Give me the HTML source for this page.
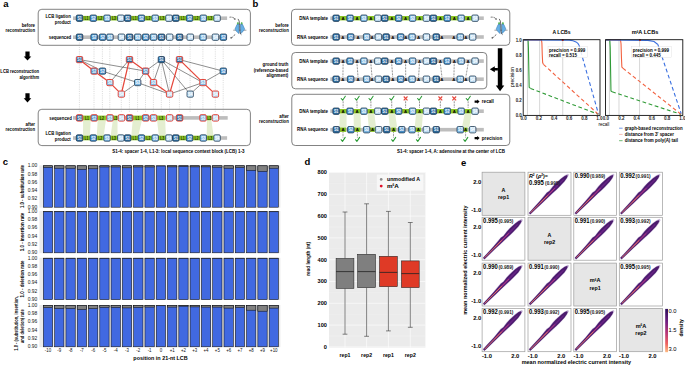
<!DOCTYPE html>
<html><head><meta charset="utf-8"><style>
html,body{margin:0;padding:0;background:#fff;}
svg{display:block;font-family:"Liberation Sans", sans-serif;}
</style></head><body>
<svg width="685" height="365" viewBox="0 0 685 365">
<rect x="0" y="0" width="685" height="365" fill="#ffffff"/>
<text x="3.2" y="7" font-size="9.5" font-weight="bold" text-anchor="start" fill="#000" >a</text>
<text x="252.6" y="6.8" font-size="9.5" font-weight="bold" text-anchor="start" fill="#000" >b</text>
<text x="2.8" y="165.2" font-size="9.5" font-weight="bold" text-anchor="start" fill="#000" >c</text>
<text x="304.4" y="165.2" font-size="9.5" font-weight="bold" text-anchor="start" fill="#000" >d</text>
<text x="461" y="165.6" font-size="9.5" font-weight="bold" text-anchor="start" fill="#000" >e</text>
<rect x="38.2" y="9.3" width="212.2" height="36" fill="none" stroke="#4d4d4d" stroke-width="0.7" rx="3.6" />
<rect x="38.2" y="109.3" width="212.2" height="36.3" fill="none" stroke="#4d4d4d" stroke-width="0.7" rx="3.6" />
<text x="35" y="26.97" font-size="5.22" font-weight="bold" text-anchor="end" fill="#000" textLength="13.29" lengthAdjust="spacingAndGlyphs" >before</text>
<text x="35" y="32.31" font-size="5.04" font-weight="bold" text-anchor="end" fill="#000" textLength="29.4" lengthAdjust="spacingAndGlyphs" >reconstruction</text>
<text x="70.8" y="18.25" font-size="5.16" font-weight="bold" text-anchor="end" fill="#000" textLength="25.32" lengthAdjust="spacingAndGlyphs" >LCB ligation</text>
<text x="70.8" y="23.95" font-size="5.16" font-weight="bold" text-anchor="end" fill="#000" textLength="16" lengthAdjust="spacingAndGlyphs" >product</text>
<text x="71.2" y="39.15" font-size="5.16" font-weight="bold" text-anchor="end" fill="#000" textLength="22.46" lengthAdjust="spacingAndGlyphs" >sequenced</text>
<rect x="73" y="16.4" width="154.1" height="3.6" fill="#bdbdbd" stroke="none" stroke-width="0" rx="0" />
<rect x="82.98" y="15.9" width="6.88" height="4.6" fill="#8ac425" stroke="none" stroke-width="0" rx="0" />
<text x="86.41" y="19.8" font-size="4.6" font-weight="bold" text-anchor="middle" fill="#1a2a00" textLength="3.9" lengthAdjust="spacingAndGlyphs">L1</text>
<rect x="96.73" y="15.9" width="6.88" height="4.6" fill="#8ac425" stroke="none" stroke-width="0" rx="0" />
<text x="100.17" y="19.8" font-size="4.6" font-weight="bold" text-anchor="middle" fill="#1a2a00" textLength="3.9" lengthAdjust="spacingAndGlyphs">L2</text>
<rect x="110.48" y="15.9" width="6.88" height="4.6" fill="#8ac425" stroke="none" stroke-width="0" rx="0" />
<text x="113.92" y="19.8" font-size="4.6" font-weight="bold" text-anchor="middle" fill="#1a2a00" textLength="3.9" lengthAdjust="spacingAndGlyphs">L3</text>
<rect x="131.11" y="15.9" width="6.88" height="4.6" fill="#8ac425" stroke="none" stroke-width="0" rx="0" />
<text x="134.55" y="19.8" font-size="4.6" font-weight="bold" text-anchor="middle" fill="#1a2a00" textLength="3.9" lengthAdjust="spacingAndGlyphs">L1</text>
<rect x="144.86" y="15.9" width="6.88" height="4.6" fill="#8ac425" stroke="none" stroke-width="0" rx="0" />
<text x="148.3" y="19.8" font-size="4.6" font-weight="bold" text-anchor="middle" fill="#1a2a00" textLength="3.9" lengthAdjust="spacingAndGlyphs">L2</text>
<rect x="158.61" y="15.9" width="6.88" height="4.6" fill="#8ac425" stroke="none" stroke-width="0" rx="0" />
<text x="162.05" y="19.8" font-size="4.6" font-weight="bold" text-anchor="middle" fill="#1a2a00" textLength="3.9" lengthAdjust="spacingAndGlyphs">L3</text>
<rect x="179.24" y="15.9" width="6.88" height="4.6" fill="#8ac425" stroke="none" stroke-width="0" rx="0" />
<text x="182.68" y="19.8" font-size="4.6" font-weight="bold" text-anchor="middle" fill="#1a2a00" textLength="3.9" lengthAdjust="spacingAndGlyphs">L1</text>
<rect x="192.99" y="15.9" width="6.88" height="4.6" fill="#8ac425" stroke="none" stroke-width="0" rx="0" />
<text x="196.43" y="19.8" font-size="4.6" font-weight="bold" text-anchor="middle" fill="#1a2a00" textLength="3.9" lengthAdjust="spacingAndGlyphs">L2</text>
<rect x="206.74" y="15.9" width="6.88" height="4.6" fill="#8ac425" stroke="none" stroke-width="0" rx="0" />
<text x="210.18" y="19.8" font-size="4.6" font-weight="bold" text-anchor="middle" fill="#1a2a00" textLength="3.9" lengthAdjust="spacingAndGlyphs">L3</text>
<rect x="76.3" y="15" width="6.5" height="6.4" rx="1.3" fill="#3675aa" stroke="#17314a" stroke-width="0.75"/>
<rect x="76.8" y="18.84" width="5.5" height="1.92" rx="0.6" fill="#24577f" opacity="0.4"/>
<text x="79.55" y="19.85" font-size="4.7" font-weight="bold" text-anchor="middle" fill="#ffffff" textLength="4.3" lengthAdjust="spacingAndGlyphs">S1</text>
<rect x="90.05" y="15" width="6.5" height="6.4" rx="1.3" fill="#4f98d2" stroke="#17314a" stroke-width="0.75"/>
<rect x="90.55" y="18.84" width="5.5" height="1.92" rx="0.6" fill="#3a7ab0" opacity="0.4"/>
<text x="93.3" y="19.85" font-size="4.7" font-weight="bold" text-anchor="middle" fill="#ffffff" textLength="4.3" lengthAdjust="spacingAndGlyphs">S2</text>
<rect x="103.8" y="15" width="6.5" height="6.4" rx="1.3" fill="#88bfe8" stroke="#17314a" stroke-width="0.75"/>
<rect x="104.3" y="18.84" width="5.5" height="1.92" rx="0.6" fill="#6aa5d2" opacity="0.4"/>
<text x="107.05" y="19.85" font-size="4.7" font-weight="bold" text-anchor="middle" fill="#ffffff" textLength="4.3" lengthAdjust="spacingAndGlyphs">S3</text>
<rect x="117.56" y="15" width="6.5" height="6.4" rx="1.3" fill="#c4e1f5" stroke="#17314a" stroke-width="0.75"/>
<rect x="118.06" y="18.84" width="5.5" height="1.92" rx="0.6" fill="#acd0ea" opacity="0.4"/>
<text x="120.81" y="19.85" font-size="4.7" font-weight="bold" text-anchor="middle" fill="#ffffff" textLength="4.3" lengthAdjust="spacingAndGlyphs">S4</text>
<rect x="124.43" y="15" width="6.5" height="6.4" rx="1.3" fill="#3675aa" stroke="#17314a" stroke-width="0.75"/>
<rect x="124.93" y="18.84" width="5.5" height="1.92" rx="0.6" fill="#24577f" opacity="0.4"/>
<text x="127.68" y="19.85" font-size="4.7" font-weight="bold" text-anchor="middle" fill="#ffffff" textLength="4.3" lengthAdjust="spacingAndGlyphs">S1</text>
<rect x="138.18" y="15" width="6.5" height="6.4" rx="1.3" fill="#4f98d2" stroke="#17314a" stroke-width="0.75"/>
<rect x="138.68" y="18.84" width="5.5" height="1.92" rx="0.6" fill="#3a7ab0" opacity="0.4"/>
<text x="141.43" y="19.85" font-size="4.7" font-weight="bold" text-anchor="middle" fill="#ffffff" textLength="4.3" lengthAdjust="spacingAndGlyphs">S2</text>
<rect x="151.94" y="15" width="6.5" height="6.4" rx="1.3" fill="#88bfe8" stroke="#17314a" stroke-width="0.75"/>
<rect x="152.44" y="18.84" width="5.5" height="1.92" rx="0.6" fill="#6aa5d2" opacity="0.4"/>
<text x="155.19" y="19.85" font-size="4.7" font-weight="bold" text-anchor="middle" fill="#ffffff" textLength="4.3" lengthAdjust="spacingAndGlyphs">S3</text>
<rect x="165.69" y="15" width="6.5" height="6.4" rx="1.3" fill="#c4e1f5" stroke="#17314a" stroke-width="0.75"/>
<rect x="166.19" y="18.84" width="5.5" height="1.92" rx="0.6" fill="#acd0ea" opacity="0.4"/>
<text x="168.94" y="19.85" font-size="4.7" font-weight="bold" text-anchor="middle" fill="#ffffff" textLength="4.3" lengthAdjust="spacingAndGlyphs">S4</text>
<rect x="172.56" y="15" width="6.5" height="6.4" rx="1.3" fill="#3675aa" stroke="#17314a" stroke-width="0.75"/>
<rect x="173.06" y="18.84" width="5.5" height="1.92" rx="0.6" fill="#24577f" opacity="0.4"/>
<text x="175.81" y="19.85" font-size="4.7" font-weight="bold" text-anchor="middle" fill="#ffffff" textLength="4.3" lengthAdjust="spacingAndGlyphs">S1</text>
<rect x="186.32" y="15" width="6.5" height="6.4" rx="1.3" fill="#4f98d2" stroke="#17314a" stroke-width="0.75"/>
<rect x="186.82" y="18.84" width="5.5" height="1.92" rx="0.6" fill="#3a7ab0" opacity="0.4"/>
<text x="189.57" y="19.85" font-size="4.7" font-weight="bold" text-anchor="middle" fill="#ffffff" textLength="4.3" lengthAdjust="spacingAndGlyphs">S2</text>
<rect x="200.07" y="15" width="6.5" height="6.4" rx="1.3" fill="#88bfe8" stroke="#17314a" stroke-width="0.75"/>
<rect x="200.57" y="18.84" width="5.5" height="1.92" rx="0.6" fill="#6aa5d2" opacity="0.4"/>
<text x="203.32" y="19.85" font-size="4.7" font-weight="bold" text-anchor="middle" fill="#ffffff" textLength="4.3" lengthAdjust="spacingAndGlyphs">S3</text>
<rect x="213.82" y="15" width="6.5" height="6.4" rx="1.3" fill="#c4e1f5" stroke="#17314a" stroke-width="0.75"/>
<rect x="214.32" y="18.84" width="5.5" height="1.92" rx="0.6" fill="#acd0ea" opacity="0.4"/>
<text x="217.07" y="19.85" font-size="4.7" font-weight="bold" text-anchor="middle" fill="#ffffff" textLength="4.3" lengthAdjust="spacingAndGlyphs">S4</text>
<rect x="73" y="35.4" width="153.8" height="3.6" fill="#bdbdbd" stroke="none" stroke-width="0" rx="0" />
<rect x="76.3" y="34" width="6.5" height="6.4" rx="1.3" fill="#3675aa" stroke="#17314a" stroke-width="0.75"/>
<rect x="76.8" y="37.84" width="5.5" height="1.92" rx="0.6" fill="#24577f" opacity="0.4"/>
<text x="79.55" y="38.85" font-size="4.7" font-weight="bold" text-anchor="middle" fill="#ffffff" textLength="4.3" lengthAdjust="spacingAndGlyphs">S1</text>
<rect x="90.9" y="34" width="6.5" height="6.4" rx="1.3" fill="#4f98d2" stroke="#17314a" stroke-width="0.75"/>
<rect x="91.4" y="37.84" width="5.5" height="1.92" rx="0.6" fill="#3a7ab0" opacity="0.4"/>
<text x="94.15" y="38.85" font-size="4.7" font-weight="bold" text-anchor="middle" fill="#ffffff" textLength="4.3" lengthAdjust="spacingAndGlyphs">S2</text>
<rect x="99.3" y="34" width="6.5" height="6.4" rx="1.3" fill="#4f98d2" stroke="#17314a" stroke-width="0.75"/>
<rect x="99.8" y="37.84" width="5.5" height="1.92" rx="0.6" fill="#3a7ab0" opacity="0.4"/>
<text x="102.55" y="38.85" font-size="4.7" font-weight="bold" text-anchor="middle" fill="#ffffff" textLength="4.3" lengthAdjust="spacingAndGlyphs">S2</text>
<rect x="106.7" y="34" width="6.5" height="6.4" rx="1.3" fill="#88bfe8" stroke="#17314a" stroke-width="0.75"/>
<rect x="107.2" y="37.84" width="5.5" height="1.92" rx="0.6" fill="#6aa5d2" opacity="0.4"/>
<text x="109.95" y="38.85" font-size="4.7" font-weight="bold" text-anchor="middle" fill="#ffffff" textLength="4.3" lengthAdjust="spacingAndGlyphs">S3</text>
<rect x="118.2" y="34" width="6.5" height="6.4" rx="1.3" fill="#c4e1f5" stroke="#17314a" stroke-width="0.75"/>
<rect x="118.7" y="37.84" width="5.5" height="1.92" rx="0.6" fill="#acd0ea" opacity="0.4"/>
<text x="121.45" y="38.85" font-size="4.7" font-weight="bold" text-anchor="middle" fill="#ffffff" textLength="4.3" lengthAdjust="spacingAndGlyphs">S4</text>
<rect x="126.3" y="34" width="6.5" height="6.4" rx="1.3" fill="#3675aa" stroke="#17314a" stroke-width="0.75"/>
<rect x="126.8" y="37.84" width="5.5" height="1.92" rx="0.6" fill="#24577f" opacity="0.4"/>
<text x="129.55" y="38.85" font-size="4.7" font-weight="bold" text-anchor="middle" fill="#ffffff" textLength="4.3" lengthAdjust="spacingAndGlyphs">S1</text>
<rect x="134.5" y="34" width="6.5" height="6.4" rx="1.3" fill="#88bfe8" stroke="#17314a" stroke-width="0.75"/>
<rect x="135" y="37.84" width="5.5" height="1.92" rx="0.6" fill="#6aa5d2" opacity="0.4"/>
<text x="137.75" y="38.85" font-size="4.7" font-weight="bold" text-anchor="middle" fill="#ffffff" textLength="4.3" lengthAdjust="spacingAndGlyphs">S3</text>
<rect x="142.4" y="34" width="6.5" height="6.4" rx="1.3" fill="#4f98d2" stroke="#17314a" stroke-width="0.75"/>
<rect x="142.9" y="37.84" width="5.5" height="1.92" rx="0.6" fill="#3a7ab0" opacity="0.4"/>
<text x="145.65" y="38.85" font-size="4.7" font-weight="bold" text-anchor="middle" fill="#ffffff" textLength="4.3" lengthAdjust="spacingAndGlyphs">S2</text>
<rect x="150.3" y="34" width="6.5" height="6.4" rx="1.3" fill="#88bfe8" stroke="#17314a" stroke-width="0.75"/>
<rect x="150.8" y="37.84" width="5.5" height="1.92" rx="0.6" fill="#6aa5d2" opacity="0.4"/>
<text x="153.55" y="38.85" font-size="4.7" font-weight="bold" text-anchor="middle" fill="#ffffff" textLength="4.3" lengthAdjust="spacingAndGlyphs">S3</text>
<rect x="158.2" y="34" width="6.5" height="6.4" rx="1.3" fill="#3675aa" stroke="#17314a" stroke-width="0.75"/>
<rect x="158.7" y="37.84" width="5.5" height="1.92" rx="0.6" fill="#24577f" opacity="0.4"/>
<text x="161.45" y="38.85" font-size="4.7" font-weight="bold" text-anchor="middle" fill="#ffffff" textLength="4.3" lengthAdjust="spacingAndGlyphs">S1</text>
<rect x="166.4" y="34" width="6.5" height="6.4" rx="1.3" fill="#c4e1f5" stroke="#17314a" stroke-width="0.75"/>
<rect x="166.9" y="37.84" width="5.5" height="1.92" rx="0.6" fill="#acd0ea" opacity="0.4"/>
<text x="169.65" y="38.85" font-size="4.7" font-weight="bold" text-anchor="middle" fill="#ffffff" textLength="4.3" lengthAdjust="spacingAndGlyphs">S4</text>
<rect x="176.3" y="34" width="6.5" height="6.4" rx="1.3" fill="#3675aa" stroke="#17314a" stroke-width="0.75"/>
<rect x="176.8" y="37.84" width="5.5" height="1.92" rx="0.6" fill="#24577f" opacity="0.4"/>
<text x="179.55" y="38.85" font-size="4.7" font-weight="bold" text-anchor="middle" fill="#ffffff" textLength="4.3" lengthAdjust="spacingAndGlyphs">S1</text>
<rect x="187" y="34" width="6.5" height="6.4" rx="1.3" fill="#c4e1f5" stroke="#17314a" stroke-width="0.75"/>
<rect x="187.5" y="37.84" width="5.5" height="1.92" rx="0.6" fill="#acd0ea" opacity="0.4"/>
<text x="190.25" y="38.85" font-size="4.7" font-weight="bold" text-anchor="middle" fill="#ffffff" textLength="4.3" lengthAdjust="spacingAndGlyphs">S4</text>
<rect x="199.8" y="34" width="6.5" height="6.4" rx="1.3" fill="#88bfe8" stroke="#17314a" stroke-width="0.75"/>
<rect x="200.3" y="37.84" width="5.5" height="1.92" rx="0.6" fill="#6aa5d2" opacity="0.4"/>
<text x="203.05" y="38.85" font-size="4.7" font-weight="bold" text-anchor="middle" fill="#ffffff" textLength="4.3" lengthAdjust="spacingAndGlyphs">S3</text>
<rect x="212.2" y="34" width="6.5" height="6.4" rx="1.3" fill="#c4e1f5" stroke="#17314a" stroke-width="0.75"/>
<rect x="212.7" y="37.84" width="5.5" height="1.92" rx="0.6" fill="#acd0ea" opacity="0.4"/>
<text x="215.45" y="38.85" font-size="4.7" font-weight="bold" text-anchor="middle" fill="#ffffff" textLength="4.3" lengthAdjust="spacingAndGlyphs">S4</text>
<rect x="220.1" y="34" width="6.5" height="6.4" rx="1.3" fill="#4f98d2" stroke="#17314a" stroke-width="0.75"/>
<rect x="220.6" y="37.84" width="5.5" height="1.92" rx="0.6" fill="#3a7ab0" opacity="0.4"/>
<text x="223.35" y="38.85" font-size="4.7" font-weight="bold" text-anchor="middle" fill="#ffffff" textLength="4.3" lengthAdjust="spacingAndGlyphs">S2</text>
<path d="M229.5,17.2 Q233.1,16.7 234.7,18.9" fill="none" stroke="#2a2a2a" stroke-width="0.65" stroke-dasharray="1.9,0.9"/>
<polygon points="235.4,20 233.7,19 235.2,17.9" fill="#2a2a2a"/>
<path d="M234.8,34.4 Q233.6,37.1 231,37.7" fill="none" stroke="#2a2a2a" stroke-width="0.65" stroke-dasharray="1.9,0.9"/>
<polygon points="230,37.9 231.5,36.7 231.6,38.7" fill="#2a2a2a"/>
<rect x="233.2" y="29.6" width="13.2" height="1.3" fill="#b8b8b8" stroke="none" stroke-width="0" rx="0" />
<ellipse cx="237.9" cy="23.4" rx="0.95" ry="1.5" fill="#5cb55a"/>
<ellipse cx="241.7" cy="23.4" rx="0.95" ry="1.5" fill="#5cb55a"/>
<path d="M239.1,24.3 L236.9,24.6 L234.9,29.1 L236.6,31.6 L239,33.7 Z" fill="#66b0e6" stroke="#2f6ea8" stroke-width="0.45" stroke-linejoin="round"/>
<path d="M240.5,24.3 L242.7,24.6 L244.7,29.1 L243,31.6 L240.6,33.7 Z" fill="#66b0e6" stroke="#2f6ea8" stroke-width="0.45" stroke-linejoin="round"/>
<path d="M238,18.9 Q239.4,19.9 239.7,25.3 L239.9,31.8 Q240.2,34.3 241.4,34.7" fill="none" stroke="#2b2b2b" stroke-width="0.7"/>
<polygon points="25.4,51.4 29.6,51.4 29.6,56.4 31.3,56.4 27.5,60.6 23.7,56.4 25.4,56.4" fill="#000"/>
<polygon points="25.4,93.3 29.6,93.3 29.6,98.3 31.3,98.3 27.5,102.5 23.7,98.3 25.4,98.3" fill="#000"/>
<text x="39" y="72.79" font-size="4.97" font-weight="bold" text-anchor="end" fill="#000" textLength="38.64" lengthAdjust="spacingAndGlyphs" >LCB reconstruction</text>
<text x="39" y="79.15" font-size="5.16" font-weight="bold" text-anchor="end" fill="#000" textLength="19.59" lengthAdjust="spacingAndGlyphs" >algorithm</text>
<line x1="79.4" y1="42.5" x2="79.4" y2="112.5" stroke="#9a9a9a" stroke-width="0.35" stroke-dasharray="1.1,1.1"/>
<line x1="94" y1="42.5" x2="94" y2="112.5" stroke="#9a9a9a" stroke-width="0.35" stroke-dasharray="1.1,1.1"/>
<line x1="102.4" y1="42.5" x2="102.4" y2="112.5" stroke="#9a9a9a" stroke-width="0.35" stroke-dasharray="1.1,1.1"/>
<line x1="109.8" y1="42.5" x2="109.8" y2="112.5" stroke="#9a9a9a" stroke-width="0.35" stroke-dasharray="1.1,1.1"/>
<line x1="121.3" y1="42.5" x2="121.3" y2="112.5" stroke="#9a9a9a" stroke-width="0.35" stroke-dasharray="1.1,1.1"/>
<line x1="129.4" y1="42.5" x2="129.4" y2="112.5" stroke="#9a9a9a" stroke-width="0.35" stroke-dasharray="1.1,1.1"/>
<line x1="137.6" y1="42.5" x2="137.6" y2="112.5" stroke="#9a9a9a" stroke-width="0.35" stroke-dasharray="1.1,1.1"/>
<line x1="145.5" y1="42.5" x2="145.5" y2="112.5" stroke="#9a9a9a" stroke-width="0.35" stroke-dasharray="1.1,1.1"/>
<line x1="153.4" y1="42.5" x2="153.4" y2="112.5" stroke="#9a9a9a" stroke-width="0.35" stroke-dasharray="1.1,1.1"/>
<line x1="161.3" y1="42.5" x2="161.3" y2="112.5" stroke="#9a9a9a" stroke-width="0.35" stroke-dasharray="1.1,1.1"/>
<line x1="169.5" y1="42.5" x2="169.5" y2="112.5" stroke="#9a9a9a" stroke-width="0.35" stroke-dasharray="1.1,1.1"/>
<line x1="179.4" y1="42.5" x2="179.4" y2="112.5" stroke="#9a9a9a" stroke-width="0.35" stroke-dasharray="1.1,1.1"/>
<line x1="190.1" y1="42.5" x2="190.1" y2="112.5" stroke="#9a9a9a" stroke-width="0.35" stroke-dasharray="1.1,1.1"/>
<line x1="202.9" y1="42.5" x2="202.9" y2="112.5" stroke="#9a9a9a" stroke-width="0.35" stroke-dasharray="1.1,1.1"/>
<line x1="215.3" y1="42.5" x2="215.3" y2="112.5" stroke="#9a9a9a" stroke-width="0.35" stroke-dasharray="1.1,1.1"/>
<line x1="223.2" y1="42.5" x2="223.2" y2="112.5" stroke="#9a9a9a" stroke-width="0.35" stroke-dasharray="1.1,1.1"/>
<line x1="79.4" y1="59.6" x2="102.4" y2="71.1" stroke="#1e1e1e" stroke-width="0.5" />
<line x1="79.4" y1="59.6" x2="145.5" y2="71.1" stroke="#1e1e1e" stroke-width="0.5" />
<line x1="102.4" y1="71.1" x2="137.6" y2="82.6" stroke="#1e1e1e" stroke-width="0.5" />
<line x1="109.8" y1="82.6" x2="129.4" y2="59.6" stroke="#1e1e1e" stroke-width="0.5" />
<line x1="121.3" y1="94.1" x2="137.6" y2="82.6" stroke="#1e1e1e" stroke-width="0.5" />
<line x1="137.6" y1="82.6" x2="145.5" y2="71.1" stroke="#1e1e1e" stroke-width="0.5" />
<line x1="137.6" y1="82.6" x2="169.5" y2="94.1" stroke="#1e1e1e" stroke-width="0.5" />
<line x1="145.5" y1="71.1" x2="161.3" y2="59.6" stroke="#1e1e1e" stroke-width="0.5" />
<line x1="161.3" y1="59.6" x2="153.4" y2="82.6" stroke="#1e1e1e" stroke-width="0.5" />
<line x1="161.3" y1="59.6" x2="169.5" y2="94.1" stroke="#1e1e1e" stroke-width="0.5" />
<line x1="161.3" y1="59.6" x2="190.1" y2="94.1" stroke="#1e1e1e" stroke-width="0.5" />
<line x1="161.3" y1="59.6" x2="202.9" y2="82.6" stroke="#1e1e1e" stroke-width="0.5" />
<line x1="169.5" y1="94.1" x2="202.9" y2="82.6" stroke="#1e1e1e" stroke-width="0.5" />
<line x1="190.1" y1="94.1" x2="202.9" y2="82.6" stroke="#1e1e1e" stroke-width="0.5" />
<line x1="179.4" y1="59.6" x2="223.2" y2="71.1" stroke="#1e1e1e" stroke-width="0.5" />
<line x1="202.9" y1="82.6" x2="223.2" y2="71.1" stroke="#1e1e1e" stroke-width="0.5" />
<line x1="79.4" y1="59.6" x2="94" y2="71.1" stroke="#e5463a" stroke-width="1.25" />
<line x1="94" y1="71.1" x2="109.8" y2="82.6" stroke="#e5463a" stroke-width="1.25" />
<line x1="109.8" y1="82.6" x2="121.3" y2="94.1" stroke="#e5463a" stroke-width="1.25" />
<line x1="121.3" y1="94.1" x2="129.4" y2="59.6" stroke="#e5463a" stroke-width="1.25" />
<line x1="129.4" y1="59.6" x2="145.5" y2="71.1" stroke="#e5463a" stroke-width="1.25" />
<line x1="145.5" y1="71.1" x2="153.4" y2="82.6" stroke="#e5463a" stroke-width="1.25" />
<line x1="153.4" y1="82.6" x2="169.5" y2="94.1" stroke="#e5463a" stroke-width="1.25" />
<line x1="169.5" y1="94.1" x2="179.4" y2="59.6" stroke="#e5463a" stroke-width="1.25" />
<line x1="179.4" y1="59.6" x2="202.9" y2="82.6" stroke="#e5463a" stroke-width="1.25" />
<line x1="202.9" y1="82.6" x2="215.3" y2="94.1" stroke="#e5463a" stroke-width="1.25" />
<rect x="76.3" y="56.5" width="6.4" height="6.2" rx="1.3" fill="#3675aa" stroke="#e5463a" stroke-width="1"/>
<rect x="76.8" y="60.22" width="5.4" height="1.86" rx="0.6" fill="#24577f" opacity="0.4"/>
<text x="79.5" y="61.25" font-size="4.7" font-weight="bold" text-anchor="middle" fill="#ffffff" textLength="4.3" lengthAdjust="spacingAndGlyphs">S1</text>
<rect x="90.9" y="68" width="6.4" height="6.2" rx="1.3" fill="#4f98d2" stroke="#e5463a" stroke-width="1"/>
<rect x="91.4" y="71.72" width="5.4" height="1.86" rx="0.6" fill="#3a7ab0" opacity="0.4"/>
<text x="94.1" y="72.75" font-size="4.7" font-weight="bold" text-anchor="middle" fill="#ffffff" textLength="4.3" lengthAdjust="spacingAndGlyphs">S2</text>
<rect x="99.3" y="68" width="6.4" height="6.2" rx="1.3" fill="#4f98d2" stroke="#17314a" stroke-width="0.75"/>
<rect x="99.8" y="71.72" width="5.4" height="1.86" rx="0.6" fill="#3a7ab0" opacity="0.4"/>
<text x="102.5" y="72.75" font-size="4.7" font-weight="bold" text-anchor="middle" fill="#ffffff" textLength="4.3" lengthAdjust="spacingAndGlyphs">S2</text>
<rect x="106.7" y="79.5" width="6.4" height="6.2" rx="1.3" fill="#88bfe8" stroke="#e5463a" stroke-width="1"/>
<rect x="107.2" y="83.22" width="5.4" height="1.86" rx="0.6" fill="#6aa5d2" opacity="0.4"/>
<text x="109.9" y="84.25" font-size="4.7" font-weight="bold" text-anchor="middle" fill="#ffffff" textLength="4.3" lengthAdjust="spacingAndGlyphs">S3</text>
<rect x="118.2" y="91" width="6.4" height="6.2" rx="1.3" fill="#c4e1f5" stroke="#e5463a" stroke-width="1"/>
<rect x="118.7" y="94.72" width="5.4" height="1.86" rx="0.6" fill="#acd0ea" opacity="0.4"/>
<text x="121.4" y="95.75" font-size="4.7" font-weight="bold" text-anchor="middle" fill="#ffffff" textLength="4.3" lengthAdjust="spacingAndGlyphs">S4</text>
<rect x="126.3" y="56.5" width="6.4" height="6.2" rx="1.3" fill="#3675aa" stroke="#e5463a" stroke-width="1"/>
<rect x="126.8" y="60.22" width="5.4" height="1.86" rx="0.6" fill="#24577f" opacity="0.4"/>
<text x="129.5" y="61.25" font-size="4.7" font-weight="bold" text-anchor="middle" fill="#ffffff" textLength="4.3" lengthAdjust="spacingAndGlyphs">S1</text>
<rect x="134.5" y="79.5" width="6.4" height="6.2" rx="1.3" fill="#88bfe8" stroke="#17314a" stroke-width="0.75"/>
<rect x="135" y="83.22" width="5.4" height="1.86" rx="0.6" fill="#6aa5d2" opacity="0.4"/>
<text x="137.7" y="84.25" font-size="4.7" font-weight="bold" text-anchor="middle" fill="#ffffff" textLength="4.3" lengthAdjust="spacingAndGlyphs">S3</text>
<rect x="142.4" y="68" width="6.4" height="6.2" rx="1.3" fill="#4f98d2" stroke="#e5463a" stroke-width="1"/>
<rect x="142.9" y="71.72" width="5.4" height="1.86" rx="0.6" fill="#3a7ab0" opacity="0.4"/>
<text x="145.6" y="72.75" font-size="4.7" font-weight="bold" text-anchor="middle" fill="#ffffff" textLength="4.3" lengthAdjust="spacingAndGlyphs">S2</text>
<rect x="150.3" y="79.5" width="6.4" height="6.2" rx="1.3" fill="#88bfe8" stroke="#e5463a" stroke-width="1"/>
<rect x="150.8" y="83.22" width="5.4" height="1.86" rx="0.6" fill="#6aa5d2" opacity="0.4"/>
<text x="153.5" y="84.25" font-size="4.7" font-weight="bold" text-anchor="middle" fill="#ffffff" textLength="4.3" lengthAdjust="spacingAndGlyphs">S3</text>
<rect x="158.2" y="56.5" width="6.4" height="6.2" rx="1.3" fill="#3675aa" stroke="#17314a" stroke-width="0.75"/>
<rect x="158.7" y="60.22" width="5.4" height="1.86" rx="0.6" fill="#24577f" opacity="0.4"/>
<text x="161.4" y="61.25" font-size="4.7" font-weight="bold" text-anchor="middle" fill="#ffffff" textLength="4.3" lengthAdjust="spacingAndGlyphs">S1</text>
<rect x="166.4" y="91" width="6.4" height="6.2" rx="1.3" fill="#c4e1f5" stroke="#e5463a" stroke-width="1"/>
<rect x="166.9" y="94.72" width="5.4" height="1.86" rx="0.6" fill="#acd0ea" opacity="0.4"/>
<text x="169.6" y="95.75" font-size="4.7" font-weight="bold" text-anchor="middle" fill="#ffffff" textLength="4.3" lengthAdjust="spacingAndGlyphs">S4</text>
<rect x="176.3" y="56.5" width="6.4" height="6.2" rx="1.3" fill="#3675aa" stroke="#e5463a" stroke-width="1"/>
<rect x="176.8" y="60.22" width="5.4" height="1.86" rx="0.6" fill="#24577f" opacity="0.4"/>
<text x="179.5" y="61.25" font-size="4.7" font-weight="bold" text-anchor="middle" fill="#ffffff" textLength="4.3" lengthAdjust="spacingAndGlyphs">S1</text>
<rect x="187" y="91" width="6.4" height="6.2" rx="1.3" fill="#c4e1f5" stroke="#17314a" stroke-width="0.75"/>
<rect x="187.5" y="94.72" width="5.4" height="1.86" rx="0.6" fill="#acd0ea" opacity="0.4"/>
<text x="190.2" y="95.75" font-size="4.7" font-weight="bold" text-anchor="middle" fill="#ffffff" textLength="4.3" lengthAdjust="spacingAndGlyphs">S4</text>
<rect x="199.8" y="79.5" width="6.4" height="6.2" rx="1.3" fill="#88bfe8" stroke="#e5463a" stroke-width="1"/>
<rect x="200.3" y="83.22" width="5.4" height="1.86" rx="0.6" fill="#6aa5d2" opacity="0.4"/>
<text x="203" y="84.25" font-size="4.7" font-weight="bold" text-anchor="middle" fill="#ffffff" textLength="4.3" lengthAdjust="spacingAndGlyphs">S3</text>
<rect x="212.2" y="91" width="6.4" height="6.2" rx="1.3" fill="#c4e1f5" stroke="#e5463a" stroke-width="1"/>
<rect x="212.7" y="94.72" width="5.4" height="1.86" rx="0.6" fill="#acd0ea" opacity="0.4"/>
<text x="215.4" y="95.75" font-size="4.7" font-weight="bold" text-anchor="middle" fill="#ffffff" textLength="4.3" lengthAdjust="spacingAndGlyphs">S4</text>
<rect x="220.1" y="68" width="6.4" height="6.2" rx="1.3" fill="#4f98d2" stroke="#17314a" stroke-width="0.75"/>
<rect x="220.6" y="71.72" width="5.4" height="1.86" rx="0.6" fill="#3a7ab0" opacity="0.4"/>
<text x="223.3" y="72.75" font-size="4.7" font-weight="bold" text-anchor="middle" fill="#ffffff" textLength="4.3" lengthAdjust="spacingAndGlyphs">S2</text>
<text x="35" y="125.77" font-size="5.22" font-weight="bold" text-anchor="end" fill="#000" textLength="9.43" lengthAdjust="spacingAndGlyphs" >after</text>
<text x="35" y="131.01" font-size="5.04" font-weight="bold" text-anchor="end" fill="#000" textLength="29.4" lengthAdjust="spacingAndGlyphs" >reconstruction</text>
<text x="71.8" y="120.35" font-size="5.16" font-weight="bold" text-anchor="end" fill="#000" textLength="22.46" lengthAdjust="spacingAndGlyphs" >sequenced</text>
<text x="70.8" y="135.35" font-size="5.16" font-weight="bold" text-anchor="end" fill="#000" textLength="25.32" lengthAdjust="spacingAndGlyphs" >LCB ligation</text>
<text x="70.8" y="141.05" font-size="5.16" font-weight="bold" text-anchor="end" fill="#000" textLength="16" lengthAdjust="spacingAndGlyphs" >product</text>
<polygon points="83.1,119.9 90.7,119.9 89.9,136 83,136" fill="#e4eed0"/>
<polygon points="97.7,119.9 105.9,119.9 103.7,136 96.8,136" fill="#e4eed0"/>
<polygon points="112.9,119.9 117.5,119.9 117.5,136 110.6,136" fill="#e4eed0"/>
<polygon points="132.7,119.9 142,119.9 138.2,136 131.3,136" fill="#e4eed0"/>
<polygon points="157,119.9 165.2,119.9 165.8,136 158.9,136" fill="#e4eed0"/>
<polygon points="207,119.9 211.3,119.9 213.6,136 206.7,136" fill="#e4eed0"/>
<rect x="73" y="116.1" width="154.7" height="3.6" fill="#bdbdbd" stroke="none" stroke-width="0" rx="0" />
<rect x="73" y="136.2" width="154.1" height="3.6" fill="#bdbdbd" stroke="none" stroke-width="0" rx="0" />
<rect x="83.1" y="115.6" width="7.6" height="4.6" fill="#8ac425" stroke="none" stroke-width="0" rx="0" />
<text x="86.9" y="119.5" font-size="4.6" font-weight="bold" text-anchor="middle" fill="#1a2a00" textLength="3.9" lengthAdjust="spacingAndGlyphs">L1</text>
<rect x="97.7" y="115.6" width="8.2" height="4.6" fill="#8ac425" stroke="none" stroke-width="0" rx="0" />
<text x="101.8" y="119.5" font-size="4.6" font-weight="bold" text-anchor="middle" fill="#1a2a00" textLength="3.9" lengthAdjust="spacingAndGlyphs">L2</text>
<rect x="112.9" y="115.6" width="4.6" height="4.6" fill="#8ac425" stroke="none" stroke-width="0" rx="0" />
<text x="115.2" y="119.5" font-size="4.6" font-weight="bold" text-anchor="middle" fill="#1a2a00" textLength="3.9" lengthAdjust="spacingAndGlyphs">L3</text>
<rect x="132.7" y="115.6" width="9.3" height="4.6" fill="#8ac425" stroke="none" stroke-width="0" rx="0" />
<text x="137.35" y="119.5" font-size="4.6" font-weight="bold" text-anchor="middle" fill="#1a2a00" textLength="3.9" lengthAdjust="spacingAndGlyphs">L1</text>
<rect x="157" y="115.6" width="8.2" height="4.6" fill="#8ac425" stroke="none" stroke-width="0" rx="0" />
<text x="161.1" y="119.5" font-size="4.6" font-weight="bold" text-anchor="middle" fill="#1a2a00" textLength="3.9" lengthAdjust="spacingAndGlyphs">L3</text>
<rect x="207" y="115.6" width="4.3" height="4.6" fill="#8ac425" stroke="none" stroke-width="0" rx="0" />
<text x="209.15" y="119.5" font-size="4.6" font-weight="bold" text-anchor="middle" fill="#1a2a00" textLength="3.9" lengthAdjust="spacingAndGlyphs">L3</text>
<rect x="76.3" y="114.7" width="6.5" height="6.4" rx="1.3" fill="#3675aa" stroke="#e5463a" stroke-width="1"/>
<rect x="76.8" y="118.54" width="5.5" height="1.92" rx="0.6" fill="#24577f" opacity="0.4"/>
<text x="79.55" y="119.55" font-size="4.7" font-weight="bold" text-anchor="middle" fill="#ffffff" textLength="4.3" lengthAdjust="spacingAndGlyphs">S1</text>
<rect x="90.9" y="114.7" width="6.5" height="6.4" rx="1.3" fill="#4f98d2" stroke="#e5463a" stroke-width="1"/>
<rect x="91.4" y="118.54" width="5.5" height="1.92" rx="0.6" fill="#3a7ab0" opacity="0.4"/>
<text x="94.15" y="119.55" font-size="4.7" font-weight="bold" text-anchor="middle" fill="#ffffff" textLength="4.3" lengthAdjust="spacingAndGlyphs">S2</text>
<rect x="106.7" y="114.7" width="6.5" height="6.4" rx="1.3" fill="#88bfe8" stroke="#e5463a" stroke-width="1"/>
<rect x="107.2" y="118.54" width="5.5" height="1.92" rx="0.6" fill="#6aa5d2" opacity="0.4"/>
<text x="109.95" y="119.55" font-size="4.7" font-weight="bold" text-anchor="middle" fill="#ffffff" textLength="4.3" lengthAdjust="spacingAndGlyphs">S3</text>
<rect x="118.2" y="114.7" width="6.5" height="6.4" rx="1.3" fill="#c4e1f5" stroke="#e5463a" stroke-width="1"/>
<rect x="118.7" y="118.54" width="5.5" height="1.92" rx="0.6" fill="#acd0ea" opacity="0.4"/>
<text x="121.45" y="119.55" font-size="4.7" font-weight="bold" text-anchor="middle" fill="#ffffff" textLength="4.3" lengthAdjust="spacingAndGlyphs">S4</text>
<rect x="126.3" y="114.7" width="6.5" height="6.4" rx="1.3" fill="#3675aa" stroke="#e5463a" stroke-width="1"/>
<rect x="126.8" y="118.54" width="5.5" height="1.92" rx="0.6" fill="#24577f" opacity="0.4"/>
<text x="129.55" y="119.55" font-size="4.7" font-weight="bold" text-anchor="middle" fill="#ffffff" textLength="4.3" lengthAdjust="spacingAndGlyphs">S1</text>
<rect x="142.4" y="114.7" width="6.5" height="6.4" rx="1.3" fill="#4f98d2" stroke="#e5463a" stroke-width="1"/>
<rect x="142.9" y="118.54" width="5.5" height="1.92" rx="0.6" fill="#3a7ab0" opacity="0.4"/>
<text x="145.65" y="119.55" font-size="4.7" font-weight="bold" text-anchor="middle" fill="#ffffff" textLength="4.3" lengthAdjust="spacingAndGlyphs">S2</text>
<rect x="150.3" y="114.7" width="6.5" height="6.4" rx="1.3" fill="#88bfe8" stroke="#e5463a" stroke-width="1"/>
<rect x="150.8" y="118.54" width="5.5" height="1.92" rx="0.6" fill="#6aa5d2" opacity="0.4"/>
<text x="153.55" y="119.55" font-size="4.7" font-weight="bold" text-anchor="middle" fill="#ffffff" textLength="4.3" lengthAdjust="spacingAndGlyphs">S3</text>
<rect x="166.4" y="114.7" width="6.5" height="6.4" rx="1.3" fill="#c4e1f5" stroke="#e5463a" stroke-width="1"/>
<rect x="166.9" y="118.54" width="5.5" height="1.92" rx="0.6" fill="#acd0ea" opacity="0.4"/>
<text x="169.65" y="119.55" font-size="4.7" font-weight="bold" text-anchor="middle" fill="#ffffff" textLength="4.3" lengthAdjust="spacingAndGlyphs">S4</text>
<rect x="176.3" y="114.7" width="6.5" height="6.4" rx="1.3" fill="#3675aa" stroke="#e5463a" stroke-width="1"/>
<rect x="176.8" y="118.54" width="5.5" height="1.92" rx="0.6" fill="#24577f" opacity="0.4"/>
<text x="179.55" y="119.55" font-size="4.7" font-weight="bold" text-anchor="middle" fill="#ffffff" textLength="4.3" lengthAdjust="spacingAndGlyphs">S1</text>
<rect x="199.8" y="114.7" width="6.5" height="6.4" rx="1.3" fill="#88bfe8" stroke="#e5463a" stroke-width="1"/>
<rect x="200.3" y="118.54" width="5.5" height="1.92" rx="0.6" fill="#6aa5d2" opacity="0.4"/>
<text x="203.05" y="119.55" font-size="4.7" font-weight="bold" text-anchor="middle" fill="#ffffff" textLength="4.3" lengthAdjust="spacingAndGlyphs">S3</text>
<rect x="212.2" y="114.7" width="6.5" height="6.4" rx="1.3" fill="#c4e1f5" stroke="#e5463a" stroke-width="1"/>
<rect x="212.7" y="118.54" width="5.5" height="1.92" rx="0.6" fill="#acd0ea" opacity="0.4"/>
<text x="215.45" y="119.55" font-size="4.7" font-weight="bold" text-anchor="middle" fill="#ffffff" textLength="4.3" lengthAdjust="spacingAndGlyphs">S4</text>
<rect x="82.98" y="135.7" width="6.88" height="4.6" fill="#8ac425" stroke="none" stroke-width="0" rx="0" />
<text x="86.41" y="139.6" font-size="4.6" font-weight="bold" text-anchor="middle" fill="#1a2a00" textLength="3.9" lengthAdjust="spacingAndGlyphs">L1</text>
<rect x="96.73" y="135.7" width="6.88" height="4.6" fill="#8ac425" stroke="none" stroke-width="0" rx="0" />
<text x="100.17" y="139.6" font-size="4.6" font-weight="bold" text-anchor="middle" fill="#1a2a00" textLength="3.9" lengthAdjust="spacingAndGlyphs">L2</text>
<rect x="110.48" y="135.7" width="6.88" height="4.6" fill="#8ac425" stroke="none" stroke-width="0" rx="0" />
<text x="113.92" y="139.6" font-size="4.6" font-weight="bold" text-anchor="middle" fill="#1a2a00" textLength="3.9" lengthAdjust="spacingAndGlyphs">L3</text>
<rect x="131.11" y="135.7" width="6.88" height="4.6" fill="#8ac425" stroke="none" stroke-width="0" rx="0" />
<text x="134.55" y="139.6" font-size="4.6" font-weight="bold" text-anchor="middle" fill="#1a2a00" textLength="3.9" lengthAdjust="spacingAndGlyphs">L1</text>
<rect x="144.86" y="135.7" width="6.88" height="4.6" fill="#8ac425" stroke="none" stroke-width="0" rx="0" />
<text x="148.3" y="139.6" font-size="4.6" font-weight="bold" text-anchor="middle" fill="#1a2a00" textLength="3.9" lengthAdjust="spacingAndGlyphs">L2</text>
<rect x="158.61" y="135.7" width="6.88" height="4.6" fill="#8ac425" stroke="none" stroke-width="0" rx="0" />
<text x="162.05" y="139.6" font-size="4.6" font-weight="bold" text-anchor="middle" fill="#1a2a00" textLength="3.9" lengthAdjust="spacingAndGlyphs">L3</text>
<rect x="179.24" y="135.7" width="6.88" height="4.6" fill="#8ac425" stroke="none" stroke-width="0" rx="0" />
<text x="182.68" y="139.6" font-size="4.6" font-weight="bold" text-anchor="middle" fill="#1a2a00" textLength="3.9" lengthAdjust="spacingAndGlyphs">L1</text>
<rect x="192.99" y="135.7" width="6.88" height="4.6" fill="#8ac425" stroke="none" stroke-width="0" rx="0" />
<text x="196.43" y="139.6" font-size="4.6" font-weight="bold" text-anchor="middle" fill="#1a2a00" textLength="3.9" lengthAdjust="spacingAndGlyphs">L2</text>
<rect x="206.74" y="135.7" width="6.88" height="4.6" fill="#8ac425" stroke="none" stroke-width="0" rx="0" />
<text x="210.18" y="139.6" font-size="4.6" font-weight="bold" text-anchor="middle" fill="#1a2a00" textLength="3.9" lengthAdjust="spacingAndGlyphs">L3</text>
<rect x="76.3" y="134.8" width="6.5" height="6.4" rx="1.3" fill="#3675aa" stroke="#17314a" stroke-width="0.75"/>
<rect x="76.8" y="138.64" width="5.5" height="1.92" rx="0.6" fill="#24577f" opacity="0.4"/>
<text x="79.55" y="139.65" font-size="4.7" font-weight="bold" text-anchor="middle" fill="#ffffff" textLength="4.3" lengthAdjust="spacingAndGlyphs">S1</text>
<rect x="90.05" y="134.8" width="6.5" height="6.4" rx="1.3" fill="#4f98d2" stroke="#17314a" stroke-width="0.75"/>
<rect x="90.55" y="138.64" width="5.5" height="1.92" rx="0.6" fill="#3a7ab0" opacity="0.4"/>
<text x="93.3" y="139.65" font-size="4.7" font-weight="bold" text-anchor="middle" fill="#ffffff" textLength="4.3" lengthAdjust="spacingAndGlyphs">S2</text>
<rect x="103.8" y="134.8" width="6.5" height="6.4" rx="1.3" fill="#88bfe8" stroke="#17314a" stroke-width="0.75"/>
<rect x="104.3" y="138.64" width="5.5" height="1.92" rx="0.6" fill="#6aa5d2" opacity="0.4"/>
<text x="107.05" y="139.65" font-size="4.7" font-weight="bold" text-anchor="middle" fill="#ffffff" textLength="4.3" lengthAdjust="spacingAndGlyphs">S3</text>
<rect x="117.56" y="134.8" width="6.5" height="6.4" rx="1.3" fill="#c4e1f5" stroke="#17314a" stroke-width="0.75"/>
<rect x="118.06" y="138.64" width="5.5" height="1.92" rx="0.6" fill="#acd0ea" opacity="0.4"/>
<text x="120.81" y="139.65" font-size="4.7" font-weight="bold" text-anchor="middle" fill="#ffffff" textLength="4.3" lengthAdjust="spacingAndGlyphs">S4</text>
<rect x="124.43" y="134.8" width="6.5" height="6.4" rx="1.3" fill="#3675aa" stroke="#17314a" stroke-width="0.75"/>
<rect x="124.93" y="138.64" width="5.5" height="1.92" rx="0.6" fill="#24577f" opacity="0.4"/>
<text x="127.68" y="139.65" font-size="4.7" font-weight="bold" text-anchor="middle" fill="#ffffff" textLength="4.3" lengthAdjust="spacingAndGlyphs">S1</text>
<rect x="138.18" y="134.8" width="6.5" height="6.4" rx="1.3" fill="#4f98d2" stroke="#17314a" stroke-width="0.75"/>
<rect x="138.68" y="138.64" width="5.5" height="1.92" rx="0.6" fill="#3a7ab0" opacity="0.4"/>
<text x="141.43" y="139.65" font-size="4.7" font-weight="bold" text-anchor="middle" fill="#ffffff" textLength="4.3" lengthAdjust="spacingAndGlyphs">S2</text>
<rect x="151.94" y="134.8" width="6.5" height="6.4" rx="1.3" fill="#88bfe8" stroke="#17314a" stroke-width="0.75"/>
<rect x="152.44" y="138.64" width="5.5" height="1.92" rx="0.6" fill="#6aa5d2" opacity="0.4"/>
<text x="155.19" y="139.65" font-size="4.7" font-weight="bold" text-anchor="middle" fill="#ffffff" textLength="4.3" lengthAdjust="spacingAndGlyphs">S3</text>
<rect x="165.69" y="134.8" width="6.5" height="6.4" rx="1.3" fill="#c4e1f5" stroke="#17314a" stroke-width="0.75"/>
<rect x="166.19" y="138.64" width="5.5" height="1.92" rx="0.6" fill="#acd0ea" opacity="0.4"/>
<text x="168.94" y="139.65" font-size="4.7" font-weight="bold" text-anchor="middle" fill="#ffffff" textLength="4.3" lengthAdjust="spacingAndGlyphs">S4</text>
<rect x="172.56" y="134.8" width="6.5" height="6.4" rx="1.3" fill="#3675aa" stroke="#17314a" stroke-width="0.75"/>
<rect x="173.06" y="138.64" width="5.5" height="1.92" rx="0.6" fill="#24577f" opacity="0.4"/>
<text x="175.81" y="139.65" font-size="4.7" font-weight="bold" text-anchor="middle" fill="#ffffff" textLength="4.3" lengthAdjust="spacingAndGlyphs">S1</text>
<rect x="186.32" y="134.8" width="6.5" height="6.4" rx="1.3" fill="#4f98d2" stroke="#17314a" stroke-width="0.75"/>
<rect x="186.82" y="138.64" width="5.5" height="1.92" rx="0.6" fill="#3a7ab0" opacity="0.4"/>
<text x="189.57" y="139.65" font-size="4.7" font-weight="bold" text-anchor="middle" fill="#ffffff" textLength="4.3" lengthAdjust="spacingAndGlyphs">S2</text>
<rect x="200.07" y="134.8" width="6.5" height="6.4" rx="1.3" fill="#88bfe8" stroke="#17314a" stroke-width="0.75"/>
<rect x="200.57" y="138.64" width="5.5" height="1.92" rx="0.6" fill="#6aa5d2" opacity="0.4"/>
<text x="203.32" y="139.65" font-size="4.7" font-weight="bold" text-anchor="middle" fill="#ffffff" textLength="4.3" lengthAdjust="spacingAndGlyphs">S3</text>
<rect x="213.82" y="134.8" width="6.5" height="6.4" rx="1.3" fill="#c4e1f5" stroke="#17314a" stroke-width="0.75"/>
<rect x="214.32" y="138.64" width="5.5" height="1.92" rx="0.6" fill="#acd0ea" opacity="0.4"/>
<text x="217.07" y="139.65" font-size="4.7" font-weight="bold" text-anchor="middle" fill="#ffffff" textLength="4.3" lengthAdjust="spacingAndGlyphs">S4</text>
<text x="112.3" y="152.98" font-size="5.82" font-weight="bold" text-anchor="start" fill="#000" textLength="132.21" lengthAdjust="spacingAndGlyphs" >S1-4: spacer 1-4, L1-3: local sequence context block (LCB) 1-3</text>
<rect x="291.5" y="9.3" width="218.3" height="36" fill="none" stroke="#4d4d4d" stroke-width="0.7" rx="3.6" />
<rect x="291.8" y="52.5" width="195" height="36.3" fill="none" stroke="#4d4d4d" stroke-width="0.7" rx="3.6" />
<rect x="291.8" y="94.3" width="218" height="51.2" fill="none" stroke="#4d4d4d" stroke-width="0.7" rx="3.6" />
<text x="288.8" y="26.8" font-size="5.28" font-weight="bold" text-anchor="end" fill="#000" textLength="13.45" lengthAdjust="spacingAndGlyphs" >before</text>
<text x="288.8" y="32.13" font-size="5.1" font-weight="bold" text-anchor="end" fill="#000" textLength="29.75" lengthAdjust="spacingAndGlyphs" >reconstruction</text>
<text x="288.3" y="65.95" font-size="5.16" font-weight="bold" text-anchor="end" fill="#000" textLength="25.79" lengthAdjust="spacingAndGlyphs" >ground truth</text>
<text x="288.3" y="71.65" font-size="5.16" font-weight="bold" text-anchor="end" fill="#000" textLength="34.66" lengthAdjust="spacingAndGlyphs" >(reference-based</text>
<text x="288.3" y="77.25" font-size="5.16" font-weight="bold" text-anchor="end" fill="#000" textLength="21.74" lengthAdjust="spacingAndGlyphs" >alignment)</text>
<text x="288.8" y="118" font-size="5.28" font-weight="bold" text-anchor="end" fill="#000" textLength="9.54" lengthAdjust="spacingAndGlyphs" >after</text>
<text x="288.8" y="123.33" font-size="5.1" font-weight="bold" text-anchor="end" fill="#000" textLength="29.75" lengthAdjust="spacingAndGlyphs" >reconstruction</text>
<text x="328" y="20" font-size="5.28" font-weight="bold" text-anchor="end" fill="#000" textLength="28.69" lengthAdjust="spacingAndGlyphs" >DNA template</text>
<text x="328" y="38.8" font-size="5.28" font-weight="bold" text-anchor="end" fill="#000" textLength="30.89" lengthAdjust="spacingAndGlyphs" >RNA sequence</text>
<text x="328" y="62.9" font-size="5.28" font-weight="bold" text-anchor="end" fill="#000" textLength="28.69" lengthAdjust="spacingAndGlyphs" >DNA template</text>
<text x="328" y="81" font-size="5.28" font-weight="bold" text-anchor="end" fill="#000" textLength="30.89" lengthAdjust="spacingAndGlyphs" >RNA sequence</text>
<text x="328" y="113" font-size="5.28" font-weight="bold" text-anchor="end" fill="#000" textLength="28.69" lengthAdjust="spacingAndGlyphs" >DNA template</text>
<text x="328" y="131.3" font-size="5.28" font-weight="bold" text-anchor="end" fill="#000" textLength="30.89" lengthAdjust="spacingAndGlyphs" >RNA sequence</text>
<rect x="330.3" y="16.4" width="153.5" height="3.6" fill="#bdbdbd" stroke="none" stroke-width="0" rx="0" />
<rect x="339.64" y="16" width="6.95" height="4.4" fill="#8ac425" stroke="none" stroke-width="0" rx="0" />
<text x="343.12" y="19.7" font-size="4.3" font-weight="bold" text-anchor="middle" fill="#000" >A</text>
<rect x="353.53" y="16" width="6.95" height="4.4" fill="#8ac425" stroke="none" stroke-width="0" rx="0" />
<text x="357.01" y="19.7" font-size="4.3" font-weight="bold" text-anchor="middle" fill="#000" >A</text>
<rect x="367.43" y="16" width="6.95" height="4.4" fill="#8ac425" stroke="none" stroke-width="0" rx="0" />
<text x="370.9" y="19.7" font-size="4.3" font-weight="bold" text-anchor="middle" fill="#000" >A</text>
<rect x="388.26" y="16" width="6.95" height="4.4" fill="#8ac425" stroke="none" stroke-width="0" rx="0" />
<text x="391.73" y="19.7" font-size="4.3" font-weight="bold" text-anchor="middle" fill="#000" >A</text>
<rect x="402.15" y="16" width="6.95" height="4.4" fill="#8ac425" stroke="none" stroke-width="0" rx="0" />
<text x="405.62" y="19.7" font-size="4.3" font-weight="bold" text-anchor="middle" fill="#000" >A</text>
<rect x="416.04" y="16" width="6.95" height="4.4" fill="#8ac425" stroke="none" stroke-width="0" rx="0" />
<text x="419.51" y="19.7" font-size="4.3" font-weight="bold" text-anchor="middle" fill="#000" >A</text>
<rect x="436.88" y="16" width="6.95" height="4.4" fill="#8ac425" stroke="none" stroke-width="0" rx="0" />
<text x="440.35" y="19.7" font-size="4.3" font-weight="bold" text-anchor="middle" fill="#000" >A</text>
<rect x="450.76" y="16" width="6.95" height="4.4" fill="#8ac425" stroke="none" stroke-width="0" rx="0" />
<text x="454.24" y="19.7" font-size="4.3" font-weight="bold" text-anchor="middle" fill="#000" >A</text>
<rect x="464.65" y="16" width="6.95" height="4.4" fill="#8ac425" stroke="none" stroke-width="0" rx="0" />
<text x="468.13" y="19.7" font-size="4.3" font-weight="bold" text-anchor="middle" fill="#000" >A</text>
<rect x="332.9" y="15" width="6.5" height="6.4" rx="1.3" fill="#3675aa" stroke="#17314a" stroke-width="0.75"/>
<rect x="333.4" y="18.84" width="5.5" height="1.92" rx="0.6" fill="#24577f" opacity="0.4"/>
<text x="336.15" y="19.85" font-size="4.7" font-weight="bold" text-anchor="middle" fill="#ffffff" textLength="4.3" lengthAdjust="spacingAndGlyphs">S1</text>
<rect x="346.79" y="15" width="6.5" height="6.4" rx="1.3" fill="#4f98d2" stroke="#17314a" stroke-width="0.75"/>
<rect x="347.29" y="18.84" width="5.5" height="1.92" rx="0.6" fill="#3a7ab0" opacity="0.4"/>
<text x="350.04" y="19.85" font-size="4.7" font-weight="bold" text-anchor="middle" fill="#ffffff" textLength="4.3" lengthAdjust="spacingAndGlyphs">S2</text>
<rect x="360.68" y="15" width="6.5" height="6.4" rx="1.3" fill="#88bfe8" stroke="#17314a" stroke-width="0.75"/>
<rect x="361.18" y="18.84" width="5.5" height="1.92" rx="0.6" fill="#6aa5d2" opacity="0.4"/>
<text x="363.93" y="19.85" font-size="4.7" font-weight="bold" text-anchor="middle" fill="#ffffff" textLength="4.3" lengthAdjust="spacingAndGlyphs">S3</text>
<rect x="374.57" y="15" width="6.5" height="6.4" rx="1.3" fill="#c4e1f5" stroke="#17314a" stroke-width="0.75"/>
<rect x="375.07" y="18.84" width="5.5" height="1.92" rx="0.6" fill="#acd0ea" opacity="0.4"/>
<text x="377.82" y="19.85" font-size="4.7" font-weight="bold" text-anchor="middle" fill="#ffffff" textLength="4.3" lengthAdjust="spacingAndGlyphs">S4</text>
<rect x="381.51" y="15" width="6.5" height="6.4" rx="1.3" fill="#3675aa" stroke="#17314a" stroke-width="0.75"/>
<rect x="382.01" y="18.84" width="5.5" height="1.92" rx="0.6" fill="#24577f" opacity="0.4"/>
<text x="384.76" y="19.85" font-size="4.7" font-weight="bold" text-anchor="middle" fill="#ffffff" textLength="4.3" lengthAdjust="spacingAndGlyphs">S1</text>
<rect x="395.4" y="15" width="6.5" height="6.4" rx="1.3" fill="#4f98d2" stroke="#17314a" stroke-width="0.75"/>
<rect x="395.9" y="18.84" width="5.5" height="1.92" rx="0.6" fill="#3a7ab0" opacity="0.4"/>
<text x="398.65" y="19.85" font-size="4.7" font-weight="bold" text-anchor="middle" fill="#ffffff" textLength="4.3" lengthAdjust="spacingAndGlyphs">S2</text>
<rect x="409.3" y="15" width="6.5" height="6.4" rx="1.3" fill="#88bfe8" stroke="#17314a" stroke-width="0.75"/>
<rect x="409.8" y="18.84" width="5.5" height="1.92" rx="0.6" fill="#6aa5d2" opacity="0.4"/>
<text x="412.55" y="19.85" font-size="4.7" font-weight="bold" text-anchor="middle" fill="#ffffff" textLength="4.3" lengthAdjust="spacingAndGlyphs">S3</text>
<rect x="423.19" y="15" width="6.5" height="6.4" rx="1.3" fill="#c4e1f5" stroke="#17314a" stroke-width="0.75"/>
<rect x="423.69" y="18.84" width="5.5" height="1.92" rx="0.6" fill="#acd0ea" opacity="0.4"/>
<text x="426.44" y="19.85" font-size="4.7" font-weight="bold" text-anchor="middle" fill="#ffffff" textLength="4.3" lengthAdjust="spacingAndGlyphs">S4</text>
<rect x="430.13" y="15" width="6.5" height="6.4" rx="1.3" fill="#3675aa" stroke="#17314a" stroke-width="0.75"/>
<rect x="430.63" y="18.84" width="5.5" height="1.92" rx="0.6" fill="#24577f" opacity="0.4"/>
<text x="433.38" y="19.85" font-size="4.7" font-weight="bold" text-anchor="middle" fill="#ffffff" textLength="4.3" lengthAdjust="spacingAndGlyphs">S1</text>
<rect x="444.02" y="15" width="6.5" height="6.4" rx="1.3" fill="#4f98d2" stroke="#17314a" stroke-width="0.75"/>
<rect x="444.52" y="18.84" width="5.5" height="1.92" rx="0.6" fill="#3a7ab0" opacity="0.4"/>
<text x="447.27" y="19.85" font-size="4.7" font-weight="bold" text-anchor="middle" fill="#ffffff" textLength="4.3" lengthAdjust="spacingAndGlyphs">S2</text>
<rect x="457.91" y="15" width="6.5" height="6.4" rx="1.3" fill="#88bfe8" stroke="#17314a" stroke-width="0.75"/>
<rect x="458.41" y="18.84" width="5.5" height="1.92" rx="0.6" fill="#6aa5d2" opacity="0.4"/>
<text x="461.16" y="19.85" font-size="4.7" font-weight="bold" text-anchor="middle" fill="#ffffff" textLength="4.3" lengthAdjust="spacingAndGlyphs">S3</text>
<rect x="471.8" y="15" width="6.5" height="6.4" rx="1.3" fill="#c4e1f5" stroke="#17314a" stroke-width="0.75"/>
<rect x="472.3" y="18.84" width="5.5" height="1.92" rx="0.6" fill="#acd0ea" opacity="0.4"/>
<text x="475.05" y="19.85" font-size="4.7" font-weight="bold" text-anchor="middle" fill="#ffffff" textLength="4.3" lengthAdjust="spacingAndGlyphs">S4</text>
<rect x="330.3" y="35.2" width="153.5" height="3.6" fill="#bdbdbd" stroke="none" stroke-width="0" rx="0" />
<text x="342.9" y="38.5" font-size="4.3" font-weight="bold" text-anchor="middle" fill="#000" >A</text>
<text x="358" y="38.5" font-size="4.3" font-weight="bold" text-anchor="middle" fill="#000" >A</text>
<text x="372" y="38.5" font-size="4.3" font-weight="bold" text-anchor="middle" fill="#000" >A</text>
<text x="392.7" y="38.5" font-size="4.3" font-weight="bold" text-anchor="middle" fill="#000" >A</text>
<text x="405.7" y="38.5" font-size="4.3" font-weight="bold" text-anchor="middle" fill="#000" >A</text>
<text x="418.6" y="38.5" font-size="4.3" font-weight="bold" text-anchor="middle" fill="#000" >A</text>
<text x="441.9" y="38.5" font-size="4.3" font-weight="bold" text-anchor="middle" fill="#000" >A</text>
<text x="453.9" y="38.5" font-size="4.3" font-weight="bold" text-anchor="middle" fill="#000" >A</text>
<text x="465.9" y="38.5" font-size="4.3" font-weight="bold" text-anchor="middle" fill="#000" >A</text>
<rect x="332.9" y="33.8" width="6.5" height="6.4" rx="1.3" fill="#3675aa" stroke="#17314a" stroke-width="0.75"/>
<rect x="333.4" y="37.64" width="5.5" height="1.92" rx="0.6" fill="#24577f" opacity="0.4"/>
<text x="336.15" y="38.65" font-size="4.7" font-weight="bold" text-anchor="middle" fill="#ffffff" textLength="4.3" lengthAdjust="spacingAndGlyphs">S1</text>
<rect x="347.4" y="33.8" width="6.5" height="6.4" rx="1.3" fill="#4f98d2" stroke="#17314a" stroke-width="0.75"/>
<rect x="347.9" y="37.64" width="5.5" height="1.92" rx="0.6" fill="#3a7ab0" opacity="0.4"/>
<text x="350.65" y="38.65" font-size="4.7" font-weight="bold" text-anchor="middle" fill="#ffffff" textLength="4.3" lengthAdjust="spacingAndGlyphs">S2</text>
<rect x="363.4" y="33.8" width="6.5" height="6.4" rx="1.3" fill="#88bfe8" stroke="#17314a" stroke-width="0.75"/>
<rect x="363.9" y="37.64" width="5.5" height="1.92" rx="0.6" fill="#6aa5d2" opacity="0.4"/>
<text x="366.65" y="38.65" font-size="4.7" font-weight="bold" text-anchor="middle" fill="#ffffff" textLength="4.3" lengthAdjust="spacingAndGlyphs">S3</text>
<rect x="375.1" y="33.8" width="6.5" height="6.4" rx="1.3" fill="#c4e1f5" stroke="#17314a" stroke-width="0.75"/>
<rect x="375.6" y="37.64" width="5.5" height="1.92" rx="0.6" fill="#acd0ea" opacity="0.4"/>
<text x="378.35" y="38.65" font-size="4.7" font-weight="bold" text-anchor="middle" fill="#ffffff" textLength="4.3" lengthAdjust="spacingAndGlyphs">S4</text>
<rect x="382.9" y="33.8" width="6.5" height="6.4" rx="1.3" fill="#3675aa" stroke="#17314a" stroke-width="0.75"/>
<rect x="383.4" y="37.64" width="5.5" height="1.92" rx="0.6" fill="#24577f" opacity="0.4"/>
<text x="386.15" y="38.65" font-size="4.7" font-weight="bold" text-anchor="middle" fill="#ffffff" textLength="4.3" lengthAdjust="spacingAndGlyphs">S1</text>
<rect x="397.4" y="33.8" width="6.5" height="6.4" rx="1.3" fill="#4f98d2" stroke="#17314a" stroke-width="0.75"/>
<rect x="397.9" y="37.64" width="5.5" height="1.92" rx="0.6" fill="#3a7ab0" opacity="0.4"/>
<text x="400.65" y="38.65" font-size="4.7" font-weight="bold" text-anchor="middle" fill="#ffffff" textLength="4.3" lengthAdjust="spacingAndGlyphs">S2</text>
<rect x="408.8" y="33.8" width="6.5" height="6.4" rx="1.3" fill="#88bfe8" stroke="#17314a" stroke-width="0.75"/>
<rect x="409.3" y="37.64" width="5.5" height="1.92" rx="0.6" fill="#6aa5d2" opacity="0.4"/>
<text x="412.05" y="38.65" font-size="4.7" font-weight="bold" text-anchor="middle" fill="#ffffff" textLength="4.3" lengthAdjust="spacingAndGlyphs">S3</text>
<rect x="423.2" y="33.8" width="6.5" height="6.4" rx="1.3" fill="#c4e1f5" stroke="#17314a" stroke-width="0.75"/>
<rect x="423.7" y="37.64" width="5.5" height="1.92" rx="0.6" fill="#acd0ea" opacity="0.4"/>
<text x="426.45" y="38.65" font-size="4.7" font-weight="bold" text-anchor="middle" fill="#ffffff" textLength="4.3" lengthAdjust="spacingAndGlyphs">S4</text>
<rect x="433" y="33.8" width="6.5" height="6.4" rx="1.3" fill="#3675aa" stroke="#17314a" stroke-width="0.75"/>
<rect x="433.5" y="37.64" width="5.5" height="1.92" rx="0.6" fill="#24577f" opacity="0.4"/>
<text x="436.25" y="38.65" font-size="4.7" font-weight="bold" text-anchor="middle" fill="#ffffff" textLength="4.3" lengthAdjust="spacingAndGlyphs">S1</text>
<rect x="457" y="33.8" width="6.5" height="6.4" rx="1.3" fill="#88bfe8" stroke="#17314a" stroke-width="0.75"/>
<rect x="457.5" y="37.64" width="5.5" height="1.92" rx="0.6" fill="#6aa5d2" opacity="0.4"/>
<text x="460.25" y="38.65" font-size="4.7" font-weight="bold" text-anchor="middle" fill="#ffffff" textLength="4.3" lengthAdjust="spacingAndGlyphs">S3</text>
<rect x="469.4" y="33.8" width="6.5" height="6.4" rx="1.3" fill="#c4e1f5" stroke="#17314a" stroke-width="0.75"/>
<rect x="469.9" y="37.64" width="5.5" height="1.92" rx="0.6" fill="#acd0ea" opacity="0.4"/>
<text x="472.65" y="38.65" font-size="4.7" font-weight="bold" text-anchor="middle" fill="#ffffff" textLength="4.3" lengthAdjust="spacingAndGlyphs">S4</text>
<line x1="343.12" y1="63.8" x2="342.9" y2="76.6" stroke="#000" stroke-width="0.6" stroke-dasharray="0.7,0.8"/>
<line x1="357.01" y1="63.8" x2="358" y2="76.6" stroke="#000" stroke-width="0.6" stroke-dasharray="0.7,0.8"/>
<line x1="370.9" y1="63.8" x2="372" y2="76.6" stroke="#000" stroke-width="0.6" stroke-dasharray="0.7,0.8"/>
<line x1="391.73" y1="63.8" x2="392.7" y2="76.6" stroke="#000" stroke-width="0.6" stroke-dasharray="0.7,0.8"/>
<line x1="405.62" y1="63.8" x2="405.7" y2="76.6" stroke="#000" stroke-width="0.6" stroke-dasharray="0.7,0.8"/>
<line x1="419.51" y1="63.8" x2="418.6" y2="76.6" stroke="#000" stroke-width="0.6" stroke-dasharray="0.7,0.8"/>
<line x1="440.35" y1="63.8" x2="441.9" y2="76.6" stroke="#000" stroke-width="0.6" stroke-dasharray="0.7,0.8"/>
<line x1="454.24" y1="63.8" x2="453.9" y2="76.6" stroke="#000" stroke-width="0.6" stroke-dasharray="0.7,0.8"/>
<line x1="468.13" y1="63.8" x2="465.9" y2="76.6" stroke="#000" stroke-width="0.6" stroke-dasharray="0.7,0.8"/>
<rect x="330.3" y="59.3" width="153.5" height="3.6" fill="#bdbdbd" stroke="none" stroke-width="0" rx="0" />
<text x="343.12" y="62.6" font-size="4.3" font-weight="bold" text-anchor="middle" fill="#000" >A</text>
<text x="357.01" y="62.6" font-size="4.3" font-weight="bold" text-anchor="middle" fill="#000" >A</text>
<text x="370.9" y="62.6" font-size="4.3" font-weight="bold" text-anchor="middle" fill="#000" >A</text>
<text x="391.73" y="62.6" font-size="4.3" font-weight="bold" text-anchor="middle" fill="#000" >A</text>
<text x="405.62" y="62.6" font-size="4.3" font-weight="bold" text-anchor="middle" fill="#000" >A</text>
<text x="419.51" y="62.6" font-size="4.3" font-weight="bold" text-anchor="middle" fill="#000" >A</text>
<text x="440.35" y="62.6" font-size="4.3" font-weight="bold" text-anchor="middle" fill="#000" >A</text>
<text x="454.24" y="62.6" font-size="4.3" font-weight="bold" text-anchor="middle" fill="#000" >A</text>
<text x="468.13" y="62.6" font-size="4.3" font-weight="bold" text-anchor="middle" fill="#000" >A</text>
<rect x="332.9" y="57.9" width="6.5" height="6.4" rx="1.3" fill="#3675aa" stroke="#17314a" stroke-width="0.75"/>
<rect x="333.4" y="61.74" width="5.5" height="1.92" rx="0.6" fill="#24577f" opacity="0.4"/>
<text x="336.15" y="62.75" font-size="4.7" font-weight="bold" text-anchor="middle" fill="#ffffff" textLength="4.3" lengthAdjust="spacingAndGlyphs">S1</text>
<rect x="346.79" y="57.9" width="6.5" height="6.4" rx="1.3" fill="#4f98d2" stroke="#17314a" stroke-width="0.75"/>
<rect x="347.29" y="61.74" width="5.5" height="1.92" rx="0.6" fill="#3a7ab0" opacity="0.4"/>
<text x="350.04" y="62.75" font-size="4.7" font-weight="bold" text-anchor="middle" fill="#ffffff" textLength="4.3" lengthAdjust="spacingAndGlyphs">S2</text>
<rect x="360.68" y="57.9" width="6.5" height="6.4" rx="1.3" fill="#88bfe8" stroke="#17314a" stroke-width="0.75"/>
<rect x="361.18" y="61.74" width="5.5" height="1.92" rx="0.6" fill="#6aa5d2" opacity="0.4"/>
<text x="363.93" y="62.75" font-size="4.7" font-weight="bold" text-anchor="middle" fill="#ffffff" textLength="4.3" lengthAdjust="spacingAndGlyphs">S3</text>
<rect x="374.57" y="57.9" width="6.5" height="6.4" rx="1.3" fill="#c4e1f5" stroke="#17314a" stroke-width="0.75"/>
<rect x="375.07" y="61.74" width="5.5" height="1.92" rx="0.6" fill="#acd0ea" opacity="0.4"/>
<text x="377.82" y="62.75" font-size="4.7" font-weight="bold" text-anchor="middle" fill="#ffffff" textLength="4.3" lengthAdjust="spacingAndGlyphs">S4</text>
<rect x="381.51" y="57.9" width="6.5" height="6.4" rx="1.3" fill="#3675aa" stroke="#17314a" stroke-width="0.75"/>
<rect x="382.01" y="61.74" width="5.5" height="1.92" rx="0.6" fill="#24577f" opacity="0.4"/>
<text x="384.76" y="62.75" font-size="4.7" font-weight="bold" text-anchor="middle" fill="#ffffff" textLength="4.3" lengthAdjust="spacingAndGlyphs">S1</text>
<rect x="395.4" y="57.9" width="6.5" height="6.4" rx="1.3" fill="#4f98d2" stroke="#17314a" stroke-width="0.75"/>
<rect x="395.9" y="61.74" width="5.5" height="1.92" rx="0.6" fill="#3a7ab0" opacity="0.4"/>
<text x="398.65" y="62.75" font-size="4.7" font-weight="bold" text-anchor="middle" fill="#ffffff" textLength="4.3" lengthAdjust="spacingAndGlyphs">S2</text>
<rect x="409.3" y="57.9" width="6.5" height="6.4" rx="1.3" fill="#88bfe8" stroke="#17314a" stroke-width="0.75"/>
<rect x="409.8" y="61.74" width="5.5" height="1.92" rx="0.6" fill="#6aa5d2" opacity="0.4"/>
<text x="412.55" y="62.75" font-size="4.7" font-weight="bold" text-anchor="middle" fill="#ffffff" textLength="4.3" lengthAdjust="spacingAndGlyphs">S3</text>
<rect x="423.19" y="57.9" width="6.5" height="6.4" rx="1.3" fill="#c4e1f5" stroke="#17314a" stroke-width="0.75"/>
<rect x="423.69" y="61.74" width="5.5" height="1.92" rx="0.6" fill="#acd0ea" opacity="0.4"/>
<text x="426.44" y="62.75" font-size="4.7" font-weight="bold" text-anchor="middle" fill="#ffffff" textLength="4.3" lengthAdjust="spacingAndGlyphs">S4</text>
<rect x="430.13" y="57.9" width="6.5" height="6.4" rx="1.3" fill="#3675aa" stroke="#17314a" stroke-width="0.75"/>
<rect x="430.63" y="61.74" width="5.5" height="1.92" rx="0.6" fill="#24577f" opacity="0.4"/>
<text x="433.38" y="62.75" font-size="4.7" font-weight="bold" text-anchor="middle" fill="#ffffff" textLength="4.3" lengthAdjust="spacingAndGlyphs">S1</text>
<rect x="444.02" y="57.9" width="6.5" height="6.4" rx="1.3" fill="#4f98d2" stroke="#17314a" stroke-width="0.75"/>
<rect x="444.52" y="61.74" width="5.5" height="1.92" rx="0.6" fill="#3a7ab0" opacity="0.4"/>
<text x="447.27" y="62.75" font-size="4.7" font-weight="bold" text-anchor="middle" fill="#ffffff" textLength="4.3" lengthAdjust="spacingAndGlyphs">S2</text>
<rect x="457.91" y="57.9" width="6.5" height="6.4" rx="1.3" fill="#88bfe8" stroke="#17314a" stroke-width="0.75"/>
<rect x="458.41" y="61.74" width="5.5" height="1.92" rx="0.6" fill="#6aa5d2" opacity="0.4"/>
<text x="461.16" y="62.75" font-size="4.7" font-weight="bold" text-anchor="middle" fill="#ffffff" textLength="4.3" lengthAdjust="spacingAndGlyphs">S3</text>
<rect x="471.8" y="57.9" width="6.5" height="6.4" rx="1.3" fill="#c4e1f5" stroke="#17314a" stroke-width="0.75"/>
<rect x="472.3" y="61.74" width="5.5" height="1.92" rx="0.6" fill="#acd0ea" opacity="0.4"/>
<text x="475.05" y="62.75" font-size="4.7" font-weight="bold" text-anchor="middle" fill="#ffffff" textLength="4.3" lengthAdjust="spacingAndGlyphs">S4</text>
<rect x="330.3" y="77.4" width="153.5" height="3.6" fill="#bdbdbd" stroke="none" stroke-width="0" rx="0" />
<text x="342.9" y="80.7" font-size="4.3" font-weight="bold" text-anchor="middle" fill="#000" >A</text>
<text x="358" y="80.7" font-size="4.3" font-weight="bold" text-anchor="middle" fill="#000" >A</text>
<text x="372" y="80.7" font-size="4.3" font-weight="bold" text-anchor="middle" fill="#000" >A</text>
<text x="392.7" y="80.7" font-size="4.3" font-weight="bold" text-anchor="middle" fill="#000" >A</text>
<text x="405.7" y="80.7" font-size="4.3" font-weight="bold" text-anchor="middle" fill="#000" >A</text>
<text x="418.6" y="80.7" font-size="4.3" font-weight="bold" text-anchor="middle" fill="#000" >A</text>
<text x="441.9" y="80.7" font-size="4.3" font-weight="bold" text-anchor="middle" fill="#000" >A</text>
<text x="453.9" y="80.7" font-size="4.3" font-weight="bold" text-anchor="middle" fill="#000" >A</text>
<text x="465.9" y="80.7" font-size="4.3" font-weight="bold" text-anchor="middle" fill="#000" >A</text>
<rect x="332.9" y="76" width="6.5" height="6.4" rx="1.3" fill="#3675aa" stroke="#17314a" stroke-width="0.75"/>
<rect x="333.4" y="79.84" width="5.5" height="1.92" rx="0.6" fill="#24577f" opacity="0.4"/>
<text x="336.15" y="80.85" font-size="4.7" font-weight="bold" text-anchor="middle" fill="#ffffff" textLength="4.3" lengthAdjust="spacingAndGlyphs">S1</text>
<rect x="347.4" y="76" width="6.5" height="6.4" rx="1.3" fill="#4f98d2" stroke="#17314a" stroke-width="0.75"/>
<rect x="347.9" y="79.84" width="5.5" height="1.92" rx="0.6" fill="#3a7ab0" opacity="0.4"/>
<text x="350.65" y="80.85" font-size="4.7" font-weight="bold" text-anchor="middle" fill="#ffffff" textLength="4.3" lengthAdjust="spacingAndGlyphs">S2</text>
<rect x="363.4" y="76" width="6.5" height="6.4" rx="1.3" fill="#88bfe8" stroke="#17314a" stroke-width="0.75"/>
<rect x="363.9" y="79.84" width="5.5" height="1.92" rx="0.6" fill="#6aa5d2" opacity="0.4"/>
<text x="366.65" y="80.85" font-size="4.7" font-weight="bold" text-anchor="middle" fill="#ffffff" textLength="4.3" lengthAdjust="spacingAndGlyphs">S3</text>
<rect x="375.1" y="76" width="6.5" height="6.4" rx="1.3" fill="#c4e1f5" stroke="#17314a" stroke-width="0.75"/>
<rect x="375.6" y="79.84" width="5.5" height="1.92" rx="0.6" fill="#acd0ea" opacity="0.4"/>
<text x="378.35" y="80.85" font-size="4.7" font-weight="bold" text-anchor="middle" fill="#ffffff" textLength="4.3" lengthAdjust="spacingAndGlyphs">S4</text>
<rect x="382.9" y="76" width="6.5" height="6.4" rx="1.3" fill="#3675aa" stroke="#17314a" stroke-width="0.75"/>
<rect x="383.4" y="79.84" width="5.5" height="1.92" rx="0.6" fill="#24577f" opacity="0.4"/>
<text x="386.15" y="80.85" font-size="4.7" font-weight="bold" text-anchor="middle" fill="#ffffff" textLength="4.3" lengthAdjust="spacingAndGlyphs">S1</text>
<rect x="397.4" y="76" width="6.5" height="6.4" rx="1.3" fill="#4f98d2" stroke="#17314a" stroke-width="0.75"/>
<rect x="397.9" y="79.84" width="5.5" height="1.92" rx="0.6" fill="#3a7ab0" opacity="0.4"/>
<text x="400.65" y="80.85" font-size="4.7" font-weight="bold" text-anchor="middle" fill="#ffffff" textLength="4.3" lengthAdjust="spacingAndGlyphs">S2</text>
<rect x="408.8" y="76" width="6.5" height="6.4" rx="1.3" fill="#88bfe8" stroke="#17314a" stroke-width="0.75"/>
<rect x="409.3" y="79.84" width="5.5" height="1.92" rx="0.6" fill="#6aa5d2" opacity="0.4"/>
<text x="412.05" y="80.85" font-size="4.7" font-weight="bold" text-anchor="middle" fill="#ffffff" textLength="4.3" lengthAdjust="spacingAndGlyphs">S3</text>
<rect x="423.2" y="76" width="6.5" height="6.4" rx="1.3" fill="#c4e1f5" stroke="#17314a" stroke-width="0.75"/>
<rect x="423.7" y="79.84" width="5.5" height="1.92" rx="0.6" fill="#acd0ea" opacity="0.4"/>
<text x="426.45" y="80.85" font-size="4.7" font-weight="bold" text-anchor="middle" fill="#ffffff" textLength="4.3" lengthAdjust="spacingAndGlyphs">S4</text>
<rect x="433" y="76" width="6.5" height="6.4" rx="1.3" fill="#3675aa" stroke="#17314a" stroke-width="0.75"/>
<rect x="433.5" y="79.84" width="5.5" height="1.92" rx="0.6" fill="#24577f" opacity="0.4"/>
<text x="436.25" y="80.85" font-size="4.7" font-weight="bold" text-anchor="middle" fill="#ffffff" textLength="4.3" lengthAdjust="spacingAndGlyphs">S1</text>
<rect x="457" y="76" width="6.5" height="6.4" rx="1.3" fill="#88bfe8" stroke="#17314a" stroke-width="0.75"/>
<rect x="457.5" y="79.84" width="5.5" height="1.92" rx="0.6" fill="#6aa5d2" opacity="0.4"/>
<text x="460.25" y="80.85" font-size="4.7" font-weight="bold" text-anchor="middle" fill="#ffffff" textLength="4.3" lengthAdjust="spacingAndGlyphs">S3</text>
<rect x="469.4" y="76" width="6.5" height="6.4" rx="1.3" fill="#c4e1f5" stroke="#17314a" stroke-width="0.75"/>
<rect x="469.9" y="79.84" width="5.5" height="1.92" rx="0.6" fill="#acd0ea" opacity="0.4"/>
<text x="472.65" y="80.85" font-size="4.7" font-weight="bold" text-anchor="middle" fill="#ffffff" textLength="4.3" lengthAdjust="spacingAndGlyphs">S4</text>
<polygon points="339.72,113.6 346.52,113.6 346.6,127.3 339.4,127.3" fill="#e4eed0"/>
<polygon points="353.61,113.6 360.41,113.6 361,127.3 353.8,127.3" fill="#e4eed0"/>
<polygon points="367.5,113.6 374.3,113.6 376,127.3 368.8,127.3" fill="#e4eed0"/>
<polygon points="388.33,113.6 395.13,113.6 397.1,127.3 389.9,127.3" fill="#e4eed0"/>
<polygon points="416.11,113.6 422.91,113.6 421.9,127.3 414.7,127.3" fill="#e4eed0"/>
<polygon points="464.73,113.6 471.53,113.6 469.2,127.3 462,127.3" fill="#e4eed0"/>
<rect x="330.3" y="109.4" width="153.5" height="3.6" fill="#bdbdbd" stroke="none" stroke-width="0" rx="0" />
<rect x="339.64" y="109" width="6.95" height="4.4" fill="#8ac425" stroke="none" stroke-width="0" rx="0" />
<text x="343.12" y="112.7" font-size="4.3" font-weight="bold" text-anchor="middle" fill="#000" >A</text>
<rect x="353.53" y="109" width="6.95" height="4.4" fill="#8ac425" stroke="none" stroke-width="0" rx="0" />
<text x="357.01" y="112.7" font-size="4.3" font-weight="bold" text-anchor="middle" fill="#000" >A</text>
<rect x="367.43" y="109" width="6.95" height="4.4" fill="#8ac425" stroke="none" stroke-width="0" rx="0" />
<text x="370.9" y="112.7" font-size="4.3" font-weight="bold" text-anchor="middle" fill="#000" >A</text>
<rect x="388.26" y="109" width="6.95" height="4.4" fill="#8ac425" stroke="none" stroke-width="0" rx="0" />
<text x="391.73" y="112.7" font-size="4.3" font-weight="bold" text-anchor="middle" fill="#000" >A</text>
<rect x="402.15" y="109" width="6.95" height="4.4" fill="#8ac425" stroke="none" stroke-width="0" rx="0" />
<text x="405.62" y="112.7" font-size="4.3" font-weight="bold" text-anchor="middle" fill="#000" >A</text>
<rect x="416.04" y="109" width="6.95" height="4.4" fill="#8ac425" stroke="none" stroke-width="0" rx="0" />
<text x="419.51" y="112.7" font-size="4.3" font-weight="bold" text-anchor="middle" fill="#000" >A</text>
<rect x="436.88" y="109" width="6.95" height="4.4" fill="#8ac425" stroke="none" stroke-width="0" rx="0" />
<text x="440.35" y="112.7" font-size="4.3" font-weight="bold" text-anchor="middle" fill="#000" >A</text>
<rect x="450.76" y="109" width="6.95" height="4.4" fill="#8ac425" stroke="none" stroke-width="0" rx="0" />
<text x="454.24" y="112.7" font-size="4.3" font-weight="bold" text-anchor="middle" fill="#000" >A</text>
<rect x="464.65" y="109" width="6.95" height="4.4" fill="#8ac425" stroke="none" stroke-width="0" rx="0" />
<text x="468.13" y="112.7" font-size="4.3" font-weight="bold" text-anchor="middle" fill="#000" >A</text>
<rect x="332.9" y="108" width="6.5" height="6.4" rx="1.3" fill="#3675aa" stroke="#17314a" stroke-width="0.75"/>
<rect x="333.4" y="111.84" width="5.5" height="1.92" rx="0.6" fill="#24577f" opacity="0.4"/>
<text x="336.15" y="112.85" font-size="4.7" font-weight="bold" text-anchor="middle" fill="#ffffff" textLength="4.3" lengthAdjust="spacingAndGlyphs">S1</text>
<rect x="346.79" y="108" width="6.5" height="6.4" rx="1.3" fill="#4f98d2" stroke="#17314a" stroke-width="0.75"/>
<rect x="347.29" y="111.84" width="5.5" height="1.92" rx="0.6" fill="#3a7ab0" opacity="0.4"/>
<text x="350.04" y="112.85" font-size="4.7" font-weight="bold" text-anchor="middle" fill="#ffffff" textLength="4.3" lengthAdjust="spacingAndGlyphs">S2</text>
<rect x="360.68" y="108" width="6.5" height="6.4" rx="1.3" fill="#88bfe8" stroke="#17314a" stroke-width="0.75"/>
<rect x="361.18" y="111.84" width="5.5" height="1.92" rx="0.6" fill="#6aa5d2" opacity="0.4"/>
<text x="363.93" y="112.85" font-size="4.7" font-weight="bold" text-anchor="middle" fill="#ffffff" textLength="4.3" lengthAdjust="spacingAndGlyphs">S3</text>
<rect x="374.57" y="108" width="6.5" height="6.4" rx="1.3" fill="#c4e1f5" stroke="#17314a" stroke-width="0.75"/>
<rect x="375.07" y="111.84" width="5.5" height="1.92" rx="0.6" fill="#acd0ea" opacity="0.4"/>
<text x="377.82" y="112.85" font-size="4.7" font-weight="bold" text-anchor="middle" fill="#ffffff" textLength="4.3" lengthAdjust="spacingAndGlyphs">S4</text>
<rect x="381.51" y="108" width="6.5" height="6.4" rx="1.3" fill="#3675aa" stroke="#17314a" stroke-width="0.75"/>
<rect x="382.01" y="111.84" width="5.5" height="1.92" rx="0.6" fill="#24577f" opacity="0.4"/>
<text x="384.76" y="112.85" font-size="4.7" font-weight="bold" text-anchor="middle" fill="#ffffff" textLength="4.3" lengthAdjust="spacingAndGlyphs">S1</text>
<rect x="395.4" y="108" width="6.5" height="6.4" rx="1.3" fill="#4f98d2" stroke="#17314a" stroke-width="0.75"/>
<rect x="395.9" y="111.84" width="5.5" height="1.92" rx="0.6" fill="#3a7ab0" opacity="0.4"/>
<text x="398.65" y="112.85" font-size="4.7" font-weight="bold" text-anchor="middle" fill="#ffffff" textLength="4.3" lengthAdjust="spacingAndGlyphs">S2</text>
<rect x="409.3" y="108" width="6.5" height="6.4" rx="1.3" fill="#88bfe8" stroke="#17314a" stroke-width="0.75"/>
<rect x="409.8" y="111.84" width="5.5" height="1.92" rx="0.6" fill="#6aa5d2" opacity="0.4"/>
<text x="412.55" y="112.85" font-size="4.7" font-weight="bold" text-anchor="middle" fill="#ffffff" textLength="4.3" lengthAdjust="spacingAndGlyphs">S3</text>
<rect x="423.19" y="108" width="6.5" height="6.4" rx="1.3" fill="#c4e1f5" stroke="#17314a" stroke-width="0.75"/>
<rect x="423.69" y="111.84" width="5.5" height="1.92" rx="0.6" fill="#acd0ea" opacity="0.4"/>
<text x="426.44" y="112.85" font-size="4.7" font-weight="bold" text-anchor="middle" fill="#ffffff" textLength="4.3" lengthAdjust="spacingAndGlyphs">S4</text>
<rect x="430.13" y="108" width="6.5" height="6.4" rx="1.3" fill="#3675aa" stroke="#17314a" stroke-width="0.75"/>
<rect x="430.63" y="111.84" width="5.5" height="1.92" rx="0.6" fill="#24577f" opacity="0.4"/>
<text x="433.38" y="112.85" font-size="4.7" font-weight="bold" text-anchor="middle" fill="#ffffff" textLength="4.3" lengthAdjust="spacingAndGlyphs">S1</text>
<rect x="444.02" y="108" width="6.5" height="6.4" rx="1.3" fill="#4f98d2" stroke="#17314a" stroke-width="0.75"/>
<rect x="444.52" y="111.84" width="5.5" height="1.92" rx="0.6" fill="#3a7ab0" opacity="0.4"/>
<text x="447.27" y="112.85" font-size="4.7" font-weight="bold" text-anchor="middle" fill="#ffffff" textLength="4.3" lengthAdjust="spacingAndGlyphs">S2</text>
<rect x="457.91" y="108" width="6.5" height="6.4" rx="1.3" fill="#88bfe8" stroke="#17314a" stroke-width="0.75"/>
<rect x="458.41" y="111.84" width="5.5" height="1.92" rx="0.6" fill="#6aa5d2" opacity="0.4"/>
<text x="461.16" y="112.85" font-size="4.7" font-weight="bold" text-anchor="middle" fill="#ffffff" textLength="4.3" lengthAdjust="spacingAndGlyphs">S3</text>
<rect x="471.8" y="108" width="6.5" height="6.4" rx="1.3" fill="#c4e1f5" stroke="#17314a" stroke-width="0.75"/>
<rect x="472.3" y="111.84" width="5.5" height="1.92" rx="0.6" fill="#acd0ea" opacity="0.4"/>
<text x="475.05" y="112.85" font-size="4.7" font-weight="bold" text-anchor="middle" fill="#ffffff" textLength="4.3" lengthAdjust="spacingAndGlyphs">S4</text>
<rect x="330.3" y="127.9" width="153.5" height="3.6" fill="#bdbdbd" stroke="none" stroke-width="0" rx="0" />
<rect x="340" y="127.5" width="6.1" height="4.4" fill="#8ac425" stroke="none" stroke-width="0" rx="0" />
<rect x="354.4" y="127.5" width="6" height="4.4" fill="#8ac425" stroke="none" stroke-width="0" rx="0" />
<rect x="370.2" y="127.5" width="4.5" height="4.4" fill="#8ac425" stroke="none" stroke-width="0" rx="0" />
<rect x="391.3" y="127.5" width="4.5" height="4.4" fill="#8ac425" stroke="none" stroke-width="0" rx="0" />
<rect x="415.7" y="127.5" width="5.3" height="4.4" fill="#8ac425" stroke="none" stroke-width="0" rx="0" />
<rect x="463.7" y="127.5" width="3.8" height="4.4" fill="#8ac425" stroke="none" stroke-width="0" rx="0" />
<text x="343.05" y="131.2" font-size="4.3" font-weight="bold" text-anchor="middle" fill="#000" >A</text>
<text x="357.4" y="131.2" font-size="4.3" font-weight="bold" text-anchor="middle" fill="#000" >A</text>
<text x="372.45" y="131.2" font-size="4.3" font-weight="bold" text-anchor="middle" fill="#000" >A</text>
<text x="393.55" y="131.2" font-size="4.3" font-weight="bold" text-anchor="middle" fill="#000" >A</text>
<text x="418.35" y="131.2" font-size="4.3" font-weight="bold" text-anchor="middle" fill="#000" >A</text>
<text x="465.6" y="131.2" font-size="4.3" font-weight="bold" text-anchor="middle" fill="#000" >A</text>
<rect x="333.1" y="126.5" width="6.5" height="6.4" rx="1.3" fill="#3675aa" stroke="#17314a" stroke-width="0.75"/>
<rect x="333.6" y="130.34" width="5.5" height="1.92" rx="0.6" fill="#24577f" opacity="0.4"/>
<text x="336.35" y="131.35" font-size="4.7" font-weight="bold" text-anchor="middle" fill="#ffffff" textLength="4.3" lengthAdjust="spacingAndGlyphs">S1</text>
<rect x="347.6" y="126.5" width="6.5" height="6.4" rx="1.3" fill="#4f98d2" stroke="#17314a" stroke-width="0.75"/>
<rect x="348.1" y="130.34" width="5.5" height="1.92" rx="0.6" fill="#3a7ab0" opacity="0.4"/>
<text x="350.85" y="131.35" font-size="4.7" font-weight="bold" text-anchor="middle" fill="#ffffff" textLength="4.3" lengthAdjust="spacingAndGlyphs">S2</text>
<rect x="363.4" y="126.5" width="6.5" height="6.4" rx="1.3" fill="#88bfe8" stroke="#17314a" stroke-width="0.75"/>
<rect x="363.9" y="130.34" width="5.5" height="1.92" rx="0.6" fill="#6aa5d2" opacity="0.4"/>
<text x="366.65" y="131.35" font-size="4.7" font-weight="bold" text-anchor="middle" fill="#ffffff" textLength="4.3" lengthAdjust="spacingAndGlyphs">S3</text>
<rect x="375.3" y="126.5" width="6.5" height="6.4" rx="1.3" fill="#c4e1f5" stroke="#17314a" stroke-width="0.75"/>
<rect x="375.8" y="130.34" width="5.5" height="1.92" rx="0.6" fill="#acd0ea" opacity="0.4"/>
<text x="378.55" y="131.35" font-size="4.7" font-weight="bold" text-anchor="middle" fill="#ffffff" textLength="4.3" lengthAdjust="spacingAndGlyphs">S4</text>
<rect x="383.4" y="126.5" width="6.5" height="6.4" rx="1.3" fill="#3675aa" stroke="#17314a" stroke-width="0.75"/>
<rect x="383.9" y="130.34" width="5.5" height="1.92" rx="0.6" fill="#24577f" opacity="0.4"/>
<text x="386.65" y="131.35" font-size="4.7" font-weight="bold" text-anchor="middle" fill="#ffffff" textLength="4.3" lengthAdjust="spacingAndGlyphs">S1</text>
<rect x="398.5" y="126.5" width="6.5" height="6.4" rx="1.3" fill="#4f98d2" stroke="#17314a" stroke-width="0.75"/>
<rect x="399" y="130.34" width="5.5" height="1.92" rx="0.6" fill="#3a7ab0" opacity="0.4"/>
<text x="401.75" y="131.35" font-size="4.7" font-weight="bold" text-anchor="middle" fill="#ffffff" textLength="4.3" lengthAdjust="spacingAndGlyphs">S2</text>
<rect x="408.8" y="126.5" width="6.5" height="6.4" rx="1.3" fill="#88bfe8" stroke="#17314a" stroke-width="0.75"/>
<rect x="409.3" y="130.34" width="5.5" height="1.92" rx="0.6" fill="#6aa5d2" opacity="0.4"/>
<text x="412.05" y="131.35" font-size="4.7" font-weight="bold" text-anchor="middle" fill="#ffffff" textLength="4.3" lengthAdjust="spacingAndGlyphs">S3</text>
<rect x="423.2" y="126.5" width="6.5" height="6.4" rx="1.3" fill="#c4e1f5" stroke="#17314a" stroke-width="0.75"/>
<rect x="423.7" y="130.34" width="5.5" height="1.92" rx="0.6" fill="#acd0ea" opacity="0.4"/>
<text x="426.45" y="131.35" font-size="4.7" font-weight="bold" text-anchor="middle" fill="#ffffff" textLength="4.3" lengthAdjust="spacingAndGlyphs">S4</text>
<rect x="433" y="126.5" width="6.5" height="6.4" rx="1.3" fill="#3675aa" stroke="#17314a" stroke-width="0.75"/>
<rect x="433.5" y="130.34" width="5.5" height="1.92" rx="0.6" fill="#24577f" opacity="0.4"/>
<text x="436.25" y="131.35" font-size="4.7" font-weight="bold" text-anchor="middle" fill="#ffffff" textLength="4.3" lengthAdjust="spacingAndGlyphs">S1</text>
<rect x="457" y="126.5" width="6.5" height="6.4" rx="1.3" fill="#88bfe8" stroke="#17314a" stroke-width="0.75"/>
<rect x="457.5" y="130.34" width="5.5" height="1.92" rx="0.6" fill="#6aa5d2" opacity="0.4"/>
<text x="460.25" y="131.35" font-size="4.7" font-weight="bold" text-anchor="middle" fill="#ffffff" textLength="4.3" lengthAdjust="spacingAndGlyphs">S3</text>
<rect x="469.4" y="126.5" width="6.5" height="6.4" rx="1.3" fill="#c4e1f5" stroke="#17314a" stroke-width="0.75"/>
<rect x="469.9" y="130.34" width="5.5" height="1.92" rx="0.6" fill="#acd0ea" opacity="0.4"/>
<text x="472.65" y="131.35" font-size="4.7" font-weight="bold" text-anchor="middle" fill="#ffffff" textLength="4.3" lengthAdjust="spacingAndGlyphs">S4</text>
<line x1="343.12" y1="100.8" x2="343.12" y2="108.2" stroke="#000" stroke-width="0.6" stroke-dasharray="0.7,0.8"/>
<path d="M341.22,98.5 L342.62,100.2 L345.32,96.2" fill="none" stroke="#2a9a35" stroke-width="1.05" stroke-linecap="round" stroke-linejoin="round"/>
<line x1="357.01" y1="100.8" x2="357.01" y2="108.2" stroke="#000" stroke-width="0.6" stroke-dasharray="0.7,0.8"/>
<path d="M355.11,98.5 L356.51,100.2 L359.21,96.2" fill="none" stroke="#2a9a35" stroke-width="1.05" stroke-linecap="round" stroke-linejoin="round"/>
<line x1="370.9" y1="100.8" x2="370.9" y2="108.2" stroke="#000" stroke-width="0.6" stroke-dasharray="0.7,0.8"/>
<path d="M369,98.5 L370.4,100.2 L373.1,96.2" fill="none" stroke="#2a9a35" stroke-width="1.05" stroke-linecap="round" stroke-linejoin="round"/>
<line x1="391.73" y1="100.8" x2="391.73" y2="108.2" stroke="#000" stroke-width="0.6" stroke-dasharray="0.7,0.8"/>
<path d="M389.83,98.5 L391.23,100.2 L393.93,96.2" fill="none" stroke="#2a9a35" stroke-width="1.05" stroke-linecap="round" stroke-linejoin="round"/>
<line x1="405.62" y1="100.8" x2="405.62" y2="108.2" stroke="#000" stroke-width="0.6" stroke-dasharray="0.7,0.8"/>
<path d="M403.72,96.5 L407.52,100.3 M407.52,96.5 L403.72,100.3" fill="none" stroke="#e8453a" stroke-width="1.1"/>
<line x1="419.51" y1="100.8" x2="419.51" y2="108.2" stroke="#000" stroke-width="0.6" stroke-dasharray="0.7,0.8"/>
<path d="M417.61,98.5 L419.01,100.2 L421.71,96.2" fill="none" stroke="#2a9a35" stroke-width="1.05" stroke-linecap="round" stroke-linejoin="round"/>
<line x1="440.35" y1="100.8" x2="440.35" y2="108.2" stroke="#000" stroke-width="0.6" stroke-dasharray="0.7,0.8"/>
<path d="M438.45,96.5 L442.25,100.3 M442.25,96.5 L438.45,100.3" fill="none" stroke="#e8453a" stroke-width="1.1"/>
<line x1="454.24" y1="100.8" x2="454.24" y2="108.2" stroke="#000" stroke-width="0.6" stroke-dasharray="0.7,0.8"/>
<path d="M452.34,96.5 L456.14,100.3 M456.14,96.5 L452.34,100.3" fill="none" stroke="#e8453a" stroke-width="1.1"/>
<line x1="468.13" y1="100.8" x2="468.13" y2="108.2" stroke="#000" stroke-width="0.6" stroke-dasharray="0.7,0.8"/>
<path d="M466.23,98.5 L467.63,100.2 L470.33,96.2" fill="none" stroke="#2a9a35" stroke-width="1.05" stroke-linecap="round" stroke-linejoin="round"/>
<line x1="343" y1="132.4" x2="343" y2="137.4" stroke="#000" stroke-width="0.6" stroke-dasharray="0.7,0.8"/>
<path d="M341.1,139.7 L342.5,141.4 L345.2,137.4" fill="none" stroke="#2a9a35" stroke-width="1.05" stroke-linecap="round" stroke-linejoin="round"/>
<line x1="357.4" y1="132.4" x2="357.4" y2="137.4" stroke="#000" stroke-width="0.6" stroke-dasharray="0.7,0.8"/>
<path d="M355.5,139.7 L356.9,141.4 L359.6,137.4" fill="none" stroke="#2a9a35" stroke-width="1.05" stroke-linecap="round" stroke-linejoin="round"/>
<line x1="393.5" y1="132.4" x2="393.5" y2="137.4" stroke="#000" stroke-width="0.6" stroke-dasharray="0.7,0.8"/>
<path d="M391.6,139.7 L393,141.4 L395.7,137.4" fill="none" stroke="#2a9a35" stroke-width="1.05" stroke-linecap="round" stroke-linejoin="round"/>
<line x1="418.3" y1="132.4" x2="418.3" y2="137.4" stroke="#000" stroke-width="0.6" stroke-dasharray="0.7,0.8"/>
<path d="M416.4,139.7 L417.8,141.4 L420.5,137.4" fill="none" stroke="#2a9a35" stroke-width="1.05" stroke-linecap="round" stroke-linejoin="round"/>
<line x1="465.6" y1="132.4" x2="465.6" y2="137.4" stroke="#000" stroke-width="0.6" stroke-dasharray="0.7,0.8"/>
<path d="M463.7,139.7 L465.1,141.4 L467.8,137.4" fill="none" stroke="#2a9a35" stroke-width="1.05" stroke-linecap="round" stroke-linejoin="round"/>
<polygon points="474.6,100.5 477.2,100.5 477.2,99.5 479.6,101.6 477.2,103.7 477.2,102.7 474.6,102.7" fill="#000"/>
<polygon points="474.6,137 477.2,137 477.2,136 479.6,138.1 477.2,140.2 477.2,139.2 474.6,139.2" fill="#000"/>
<text x="481.8" y="103.28" font-size="5.52" font-weight="bold" text-anchor="start" fill="#000" textLength="12.02" lengthAdjust="spacingAndGlyphs" >recall</text>
<text x="481.8" y="139.78" font-size="5.52" font-weight="bold" text-anchor="start" fill="#000" textLength="20.45" lengthAdjust="spacingAndGlyphs" >precision</text>
<text x="397" y="152.67" font-size="5.79" font-weight="bold" text-anchor="start" fill="#000" textLength="107.9" lengthAdjust="spacingAndGlyphs" >S1-4: spacer 1-4, A: adenosine at the center of LCB</text>
<path d="M490.7,17.2 Q494.3,16.7 495.9,18.9" fill="none" stroke="#2a2a2a" stroke-width="0.65" stroke-dasharray="1.9,0.9"/>
<polygon points="496.6,20 494.9,19 496.4,17.9" fill="#2a2a2a"/>
<path d="M496,34.4 Q494.8,37.1 492.2,37.7" fill="none" stroke="#2a2a2a" stroke-width="0.65" stroke-dasharray="1.9,0.9"/>
<polygon points="491.2,37.9 492.7,36.7 492.8,38.7" fill="#2a2a2a"/>
<rect x="494.4" y="29.6" width="13.2" height="1.3" fill="#b8b8b8" stroke="none" stroke-width="0" rx="0" />
<ellipse cx="499.1" cy="23.4" rx="0.95" ry="1.5" fill="#5cb55a"/>
<ellipse cx="502.9" cy="23.4" rx="0.95" ry="1.5" fill="#5cb55a"/>
<path d="M500.3,24.3 L498.1,24.6 L496.1,29.1 L497.8,31.6 L500.2,33.7 Z" fill="#66b0e6" stroke="#2f6ea8" stroke-width="0.45" stroke-linejoin="round"/>
<path d="M501.7,24.3 L503.9,24.6 L505.9,29.1 L504.2,31.6 L501.8,33.7 Z" fill="#66b0e6" stroke="#2f6ea8" stroke-width="0.45" stroke-linejoin="round"/>
<path d="M499.2,18.9 Q500.6,19.9 500.9,25.3 L501.1,31.8 Q501.4,34.3 502.6,34.7" fill="none" stroke="#2b2b2b" stroke-width="0.7"/>
<polygon points="497.8,48.2 502.3,48.2 502.3,85.6 504.3,85.6 500.05,91.2 495.8,85.6 497.8,85.6" fill="#000"/>
<polygon points="497.9,67.9 494.8,67.9 494.8,66.2 489.8,69.2 494.8,72.2 494.8,70.5 497.9,70.5" fill="#000"/>
<rect x="523.2" y="39.7" width="76.8" height="75.7" fill="#ffffff" stroke="none" stroke-width="0" rx="0" />
<line x1="527.49" y1="39.7" x2="527.49" y2="115.4" stroke="#9a9a9a" stroke-width="0.4" />
<line x1="539.62" y1="39.7" x2="539.62" y2="115.4" stroke="#9a9a9a" stroke-width="0.4" />
<line x1="562.74" y1="39.7" x2="562.74" y2="115.4" stroke="#9a9a9a" stroke-width="0.4" />
<polyline points="523.7,40 528.1,40 528.4,47.51 529.16,87.31 530.52,88.44" fill="none" stroke="#2f9a36" stroke-width="1.1"/>
<line x1="530.52" y1="88.44" x2="598.36" y2="114.35" stroke="#2f9a36" stroke-width="1.1" stroke-dasharray="3.8,2.6"/>
<polyline points="523.7,40 541.51,40 541.89,43 542.27,55.02 542.65,62.53 543.41,64.41" fill="none" stroke="#f2603f" stroke-width="1.1"/>
<line x1="543.41" y1="64.41" x2="598.36" y2="114.35" stroke="#f2603f" stroke-width="1.1" stroke-dasharray="3.8,2.6"/>
<polyline points="523.7,40 569.18,40.15 572.97,40.75 576,41.88 577.9,43.38 579.03,45.26" fill="none" stroke="#3a6fe0" stroke-width="1.1"/>
<line x1="579.03" y1="45.26" x2="598.36" y2="113.6" stroke="#3a6fe0" stroke-width="1.1" stroke-dasharray="3.8,2.6"/>
<circle cx="562.74" cy="40" r="1.1" fill="#b0221c"/>
<rect x="523.2" y="39.7" width="76.8" height="75.7" fill="none" stroke="#111" stroke-width="0.9" rx="0" />
<rect x="548" y="46.6" width="39.8" height="10.9" fill="rgba(255,255,255,0.85)" stroke="#cfcfcf" stroke-width="0.3" rx="0" />
<text x="548.9" y="51.74" font-size="5.4" font-weight="bold" text-anchor="start" fill="#000" textLength="36.4" lengthAdjust="spacingAndGlyphs" >precision = 0.999</text>
<text x="548.9" y="57.04" font-size="5.4" font-weight="bold" text-anchor="start" fill="#000" textLength="28.15" lengthAdjust="spacingAndGlyphs" >recall = 0.515</text>
<text x="561.5" y="34.11" font-size="5.61" font-weight="bold" text-anchor="middle" fill="#000" textLength="18.23" lengthAdjust="spacingAndGlyphs" >A LCBs</text>
<text x="523.7" y="120.41" font-size="4.73" font-weight="bold" text-anchor="middle" fill="#222" textLength="6.26" lengthAdjust="spacingAndGlyphs" >0.0</text>
<text x="521.8" y="116.67" font-size="4.62" font-weight="bold" text-anchor="end" fill="#222" textLength="6.12" lengthAdjust="spacingAndGlyphs" >0.0</text>
<line x1="523.7" y1="115.4" x2="523.7" y2="116.3" stroke="#111" stroke-width="0.4" />
<text x="538.86" y="120.41" font-size="4.73" font-weight="bold" text-anchor="middle" fill="#222" textLength="6.26" lengthAdjust="spacingAndGlyphs" >0.2</text>
<text x="521.8" y="101.65" font-size="4.62" font-weight="bold" text-anchor="end" fill="#222" textLength="6.12" lengthAdjust="spacingAndGlyphs" >0.2</text>
<line x1="538.86" y1="115.4" x2="538.86" y2="116.3" stroke="#111" stroke-width="0.4" />
<text x="554.02" y="120.41" font-size="4.73" font-weight="bold" text-anchor="middle" fill="#222" textLength="6.26" lengthAdjust="spacingAndGlyphs" >0.4</text>
<text x="521.8" y="86.63" font-size="4.62" font-weight="bold" text-anchor="end" fill="#222" textLength="6.12" lengthAdjust="spacingAndGlyphs" >0.4</text>
<line x1="554.02" y1="115.4" x2="554.02" y2="116.3" stroke="#111" stroke-width="0.4" />
<text x="569.18" y="120.41" font-size="4.73" font-weight="bold" text-anchor="middle" fill="#222" textLength="6.26" lengthAdjust="spacingAndGlyphs" >0.6</text>
<text x="521.8" y="71.61" font-size="4.62" font-weight="bold" text-anchor="end" fill="#222" textLength="6.12" lengthAdjust="spacingAndGlyphs" >0.6</text>
<line x1="569.18" y1="115.4" x2="569.18" y2="116.3" stroke="#111" stroke-width="0.4" />
<text x="584.34" y="120.41" font-size="4.73" font-weight="bold" text-anchor="middle" fill="#222" textLength="6.26" lengthAdjust="spacingAndGlyphs" >0.8</text>
<text x="521.8" y="56.59" font-size="4.62" font-weight="bold" text-anchor="end" fill="#222" textLength="6.12" lengthAdjust="spacingAndGlyphs" >0.8</text>
<line x1="584.34" y1="115.4" x2="584.34" y2="116.3" stroke="#111" stroke-width="0.4" />
<text x="599.5" y="120.41" font-size="4.73" font-weight="bold" text-anchor="middle" fill="#222" textLength="6.26" lengthAdjust="spacingAndGlyphs" >1.0</text>
<text x="521.8" y="41.57" font-size="4.62" font-weight="bold" text-anchor="end" fill="#222" textLength="6.12" lengthAdjust="spacingAndGlyphs" >1.0</text>
<line x1="599.5" y1="115.4" x2="599.5" y2="116.3" stroke="#111" stroke-width="0.4" />
<rect x="605.5" y="39.7" width="77.3" height="75.7" fill="#ffffff" stroke="none" stroke-width="0" rx="0" />
<line x1="609.43" y1="39.7" x2="609.43" y2="115.4" stroke="#9a9a9a" stroke-width="0.4" />
<line x1="618.97" y1="39.7" x2="618.97" y2="115.4" stroke="#9a9a9a" stroke-width="0.4" />
<line x1="639.57" y1="39.7" x2="639.57" y2="115.4" stroke="#9a9a9a" stroke-width="0.4" />
<polyline points="606,40 609.82,40 610.2,47.51 610.96,91.07 612.1,91.82" fill="none" stroke="#2f9a36" stroke-width="1.1"/>
<line x1="612.1" y1="91.82" x2="681.16" y2="114.35" stroke="#2f9a36" stroke-width="1.1" stroke-dasharray="3.8,2.6"/>
<polyline points="606,40 620.5,40 621.03,43.76 621.49,58.78 621.87,67.04 622.79,68.16" fill="none" stroke="#f2603f" stroke-width="1.1"/>
<line x1="622.79" y1="68.16" x2="681.16" y2="114.35" stroke="#f2603f" stroke-width="1.1" stroke-dasharray="3.8,2.6"/>
<polyline points="606,40 647.96,40.38 654.07,41.5 657.88,44.51" fill="none" stroke="#3a6fe0" stroke-width="1.1"/>
<line x1="657.88" y1="44.51" x2="681.16" y2="113.6" stroke="#3a6fe0" stroke-width="1.1" stroke-dasharray="3.8,2.6"/>
<circle cx="639.95" cy="40" r="1.1" fill="#b0221c"/>
<rect x="605.5" y="39.7" width="77.3" height="75.7" fill="none" stroke="#111" stroke-width="0.9" rx="0" />
<rect x="631.8" y="46.6" width="39.6" height="10.9" fill="rgba(255,255,255,0.85)" stroke="#cfcfcf" stroke-width="0.3" rx="0" />
<text x="632.7" y="51.74" font-size="5.4" font-weight="bold" text-anchor="start" fill="#000" textLength="36.4" lengthAdjust="spacingAndGlyphs" >precision = 0.999</text>
<text x="632.7" y="57.04" font-size="5.4" font-weight="bold" text-anchor="start" fill="#000" textLength="28.15" lengthAdjust="spacingAndGlyphs" >recall = 0.445</text>
<text x="645" y="34.11" font-size="5.61" font-weight="bold" text-anchor="middle" fill="#000" >m<tspan font-size="2.8" dy="-1.6">6</tspan><tspan dy="1.6">A LCBs</tspan></text>
<text x="606" y="120.41" font-size="4.73" font-weight="bold" text-anchor="middle" fill="#222" textLength="6.26" lengthAdjust="spacingAndGlyphs" >0.0</text>
<line x1="606" y1="115.4" x2="606" y2="116.3" stroke="#111" stroke-width="0.4" />
<text x="621.26" y="120.41" font-size="4.73" font-weight="bold" text-anchor="middle" fill="#222" textLength="6.26" lengthAdjust="spacingAndGlyphs" >0.2</text>
<line x1="621.26" y1="115.4" x2="621.26" y2="116.3" stroke="#111" stroke-width="0.4" />
<text x="636.52" y="120.41" font-size="4.73" font-weight="bold" text-anchor="middle" fill="#222" textLength="6.26" lengthAdjust="spacingAndGlyphs" >0.4</text>
<line x1="636.52" y1="115.4" x2="636.52" y2="116.3" stroke="#111" stroke-width="0.4" />
<text x="651.78" y="120.41" font-size="4.73" font-weight="bold" text-anchor="middle" fill="#222" textLength="6.26" lengthAdjust="spacingAndGlyphs" >0.6</text>
<line x1="651.78" y1="115.4" x2="651.78" y2="116.3" stroke="#111" stroke-width="0.4" />
<text x="667.04" y="120.41" font-size="4.73" font-weight="bold" text-anchor="middle" fill="#222" textLength="6.26" lengthAdjust="spacingAndGlyphs" >0.8</text>
<line x1="667.04" y1="115.4" x2="667.04" y2="116.3" stroke="#111" stroke-width="0.4" />
<text x="682.3" y="120.41" font-size="4.73" font-weight="bold" text-anchor="middle" fill="#222" textLength="6.26" lengthAdjust="spacingAndGlyphs" >1.0</text>
<line x1="682.3" y1="115.4" x2="682.3" y2="116.3" stroke="#111" stroke-width="0.4" />
<text x="603.9" y="125.8" font-size="5.29" font-weight="normal" text-anchor="middle" fill="#000" textLength="10.99" lengthAdjust="spacingAndGlyphs" >recall</text>
<text transform="translate(513.59,77) rotate(-90)" font-size="5.25" font-weight="normal" text-anchor="middle" fill="#000" textLength="20.01" lengthAdjust="spacingAndGlyphs" >precision</text>
<line x1="619.1" y1="128.2" x2="622.6" y2="128.2" stroke="#3a6fe0" stroke-width="0.7" />
<text x="624.7" y="129.95" font-size="5.2" font-weight="bold" fill="#000" textLength="58.0" lengthAdjust="spacingAndGlyphs">graph-based reconstruction</text>
<line x1="619.1" y1="134.4" x2="622.6" y2="134.4" stroke="#f3a59a" stroke-width="0.7" />
<text x="624.7" y="136.15" font-size="5.2" font-weight="bold" fill="#000" textLength="49.2" lengthAdjust="spacingAndGlyphs">distance from 3&#8242; spacer</text>
<line x1="619.1" y1="140.7" x2="622.6" y2="140.7" stroke="#2f9a36" stroke-width="0.7" />
<text x="624.7" y="142.45" font-size="5.2" font-weight="bold" fill="#000" textLength="53.3" lengthAdjust="spacingAndGlyphs">distance from poly(A) tail</text>
<rect x="39.4" y="165.4" width="241" height="42.2" fill="#ebebeb" stroke="none" stroke-width="0" rx="0" />
<rect x="43.35" y="165.8" width="9.3" height="41.4" fill="#4169e1" stroke="#111" stroke-width="0.55" rx="0" />
<rect x="43.35" y="165.8" width="9.3" height="1.5" fill="#808080" stroke="#111" stroke-width="0.55" rx="0" />
<rect x="54.64" y="165.8" width="9.3" height="41.4" fill="#4169e1" stroke="#111" stroke-width="0.55" rx="0" />
<rect x="54.64" y="165.8" width="9.3" height="2.4" fill="#808080" stroke="#111" stroke-width="0.55" rx="0" />
<rect x="65.93" y="165.8" width="9.3" height="41.4" fill="#4169e1" stroke="#111" stroke-width="0.55" rx="0" />
<rect x="65.93" y="165.8" width="9.3" height="2.4" fill="#808080" stroke="#111" stroke-width="0.55" rx="0" />
<rect x="77.22" y="165.8" width="9.3" height="41.4" fill="#4169e1" stroke="#111" stroke-width="0.55" rx="0" />
<rect x="77.22" y="165.8" width="9.3" height="3.5" fill="#808080" stroke="#111" stroke-width="0.55" rx="0" />
<rect x="88.51" y="165.8" width="9.3" height="41.4" fill="#4169e1" stroke="#111" stroke-width="0.55" rx="0" />
<rect x="88.51" y="165.8" width="9.3" height="3" fill="#808080" stroke="#111" stroke-width="0.55" rx="0" />
<rect x="99.8" y="165.8" width="9.3" height="41.4" fill="#4169e1" stroke="#111" stroke-width="0.55" rx="0" />
<rect x="99.8" y="165.8" width="9.3" height="1.2" fill="#808080" stroke="#111" stroke-width="0.55" rx="0" />
<rect x="111.09" y="165.8" width="9.3" height="41.4" fill="#4169e1" stroke="#111" stroke-width="0.55" rx="0" />
<rect x="111.09" y="165.8" width="9.3" height="1.2" fill="#808080" stroke="#111" stroke-width="0.55" rx="0" />
<rect x="122.38" y="165.8" width="9.3" height="41.4" fill="#4169e1" stroke="#111" stroke-width="0.55" rx="0" />
<rect x="122.38" y="165.8" width="9.3" height="2" fill="#808080" stroke="#111" stroke-width="0.55" rx="0" />
<rect x="133.67" y="165.8" width="9.3" height="41.4" fill="#4169e1" stroke="#111" stroke-width="0.55" rx="0" />
<rect x="133.67" y="165.8" width="9.3" height="1.2" fill="#808080" stroke="#111" stroke-width="0.55" rx="0" />
<rect x="144.96" y="165.8" width="9.3" height="41.4" fill="#4169e1" stroke="#111" stroke-width="0.55" rx="0" />
<rect x="144.96" y="165.8" width="9.3" height="1.2" fill="#808080" stroke="#111" stroke-width="0.55" rx="0" />
<rect x="156.25" y="165.8" width="9.3" height="41.4" fill="#4169e1" stroke="#111" stroke-width="0.55" rx="0" />
<line x1="156.25" y1="166" x2="165.55" y2="166" stroke="#222" stroke-width="0.6" />
<rect x="167.54" y="165.8" width="9.3" height="41.4" fill="#4169e1" stroke="#111" stroke-width="0.55" rx="0" />
<rect x="167.54" y="165.8" width="9.3" height="1.1" fill="#808080" stroke="#111" stroke-width="0.55" rx="0" />
<rect x="178.83" y="165.8" width="9.3" height="41.4" fill="#4169e1" stroke="#111" stroke-width="0.55" rx="0" />
<rect x="178.83" y="165.8" width="9.3" height="0.6" fill="#808080" stroke="#111" stroke-width="0.55" rx="0" />
<rect x="190.12" y="165.8" width="9.3" height="41.4" fill="#4169e1" stroke="#111" stroke-width="0.55" rx="0" />
<rect x="190.12" y="165.8" width="9.3" height="1.1" fill="#808080" stroke="#111" stroke-width="0.55" rx="0" />
<rect x="201.41" y="165.8" width="9.3" height="41.4" fill="#4169e1" stroke="#111" stroke-width="0.55" rx="0" />
<rect x="201.41" y="165.8" width="9.3" height="1.1" fill="#808080" stroke="#111" stroke-width="0.55" rx="0" />
<rect x="212.7" y="165.8" width="9.3" height="41.4" fill="#4169e1" stroke="#111" stroke-width="0.55" rx="0" />
<rect x="212.7" y="165.8" width="9.3" height="1.4" fill="#808080" stroke="#111" stroke-width="0.55" rx="0" />
<rect x="223.99" y="165.8" width="9.3" height="41.4" fill="#4169e1" stroke="#111" stroke-width="0.55" rx="0" />
<rect x="223.99" y="165.8" width="9.3" height="2.4" fill="#808080" stroke="#111" stroke-width="0.55" rx="0" />
<rect x="235.28" y="165.8" width="9.3" height="41.4" fill="#4169e1" stroke="#111" stroke-width="0.55" rx="0" />
<rect x="235.28" y="165.8" width="9.3" height="1.7" fill="#808080" stroke="#111" stroke-width="0.55" rx="0" />
<rect x="246.57" y="165.8" width="9.3" height="41.4" fill="#4169e1" stroke="#111" stroke-width="0.55" rx="0" />
<rect x="246.57" y="165.8" width="9.3" height="4.5" fill="#808080" stroke="#111" stroke-width="0.55" rx="0" />
<rect x="257.86" y="165.8" width="9.3" height="41.4" fill="#4169e1" stroke="#111" stroke-width="0.55" rx="0" />
<rect x="257.86" y="165.8" width="9.3" height="5.5" fill="#808080" stroke="#111" stroke-width="0.55" rx="0" />
<rect x="269.15" y="165.8" width="9.3" height="41.4" fill="#4169e1" stroke="#111" stroke-width="0.55" rx="0" />
<rect x="269.15" y="165.8" width="9.3" height="2.4" fill="#808080" stroke="#111" stroke-width="0.55" rx="0" />
<text x="37.3" y="167.25" font-size="5.15" font-weight="normal" text-anchor="end" fill="#111" textLength="9.54" lengthAdjust="spacingAndGlyphs" >1.00</text>
<text x="37.3" y="175.53" font-size="5.15" font-weight="normal" text-anchor="end" fill="#111" textLength="9.54" lengthAdjust="spacingAndGlyphs" >0.98</text>
<text x="37.3" y="183.81" font-size="5.15" font-weight="normal" text-anchor="end" fill="#111" textLength="9.54" lengthAdjust="spacingAndGlyphs" >0.96</text>
<text x="37.3" y="192.09" font-size="5.15" font-weight="normal" text-anchor="end" fill="#111" textLength="9.54" lengthAdjust="spacingAndGlyphs" >0.94</text>
<text x="37.3" y="200.37" font-size="5.15" font-weight="normal" text-anchor="end" fill="#111" textLength="9.54" lengthAdjust="spacingAndGlyphs" >0.92</text>
<text x="37.3" y="208.65" font-size="5.15" font-weight="normal" text-anchor="end" fill="#111" textLength="9.54" lengthAdjust="spacingAndGlyphs" >0.90</text>
<rect x="39.4" y="211" width="241" height="42.2" fill="#ebebeb" stroke="none" stroke-width="0" rx="0" />
<rect x="43.35" y="211.4" width="9.3" height="41.4" fill="#4169e1" stroke="#111" stroke-width="0.55" rx="0" />
<line x1="43.35" y1="211.6" x2="52.65" y2="211.6" stroke="#222" stroke-width="0.6" />
<rect x="54.64" y="211.4" width="9.3" height="41.4" fill="#4169e1" stroke="#111" stroke-width="0.55" rx="0" />
<line x1="54.64" y1="211.6" x2="63.94" y2="211.6" stroke="#222" stroke-width="0.6" />
<rect x="65.93" y="211.4" width="9.3" height="41.4" fill="#4169e1" stroke="#111" stroke-width="0.55" rx="0" />
<line x1="65.93" y1="211.6" x2="75.23" y2="211.6" stroke="#222" stroke-width="0.6" />
<rect x="77.22" y="211.4" width="9.3" height="41.4" fill="#4169e1" stroke="#111" stroke-width="0.55" rx="0" />
<line x1="77.22" y1="211.6" x2="86.52" y2="211.6" stroke="#222" stroke-width="0.6" />
<rect x="88.51" y="211.4" width="9.3" height="41.4" fill="#4169e1" stroke="#111" stroke-width="0.55" rx="0" />
<line x1="88.51" y1="211.6" x2="97.81" y2="211.6" stroke="#222" stroke-width="0.6" />
<rect x="99.8" y="211.4" width="9.3" height="41.4" fill="#4169e1" stroke="#111" stroke-width="0.55" rx="0" />
<line x1="99.8" y1="211.6" x2="109.1" y2="211.6" stroke="#222" stroke-width="0.6" />
<rect x="111.09" y="211.4" width="9.3" height="41.4" fill="#4169e1" stroke="#111" stroke-width="0.55" rx="0" />
<line x1="111.09" y1="211.6" x2="120.39" y2="211.6" stroke="#222" stroke-width="0.6" />
<rect x="122.38" y="211.4" width="9.3" height="41.4" fill="#4169e1" stroke="#111" stroke-width="0.55" rx="0" />
<line x1="122.38" y1="211.6" x2="131.68" y2="211.6" stroke="#222" stroke-width="0.6" />
<rect x="133.67" y="211.4" width="9.3" height="41.4" fill="#4169e1" stroke="#111" stroke-width="0.55" rx="0" />
<line x1="133.67" y1="211.6" x2="142.97" y2="211.6" stroke="#222" stroke-width="0.6" />
<rect x="144.96" y="211.4" width="9.3" height="41.4" fill="#4169e1" stroke="#111" stroke-width="0.55" rx="0" />
<line x1="144.96" y1="211.6" x2="154.26" y2="211.6" stroke="#222" stroke-width="0.6" />
<rect x="156.25" y="211.4" width="9.3" height="41.4" fill="#4169e1" stroke="#111" stroke-width="0.55" rx="0" />
<line x1="156.25" y1="211.6" x2="165.55" y2="211.6" stroke="#222" stroke-width="0.6" />
<rect x="167.54" y="211.4" width="9.3" height="41.4" fill="#4169e1" stroke="#111" stroke-width="0.55" rx="0" />
<line x1="167.54" y1="211.6" x2="176.84" y2="211.6" stroke="#222" stroke-width="0.6" />
<rect x="178.83" y="211.4" width="9.3" height="41.4" fill="#4169e1" stroke="#111" stroke-width="0.55" rx="0" />
<line x1="178.83" y1="211.6" x2="188.13" y2="211.6" stroke="#222" stroke-width="0.6" />
<rect x="190.12" y="211.4" width="9.3" height="41.4" fill="#4169e1" stroke="#111" stroke-width="0.55" rx="0" />
<line x1="190.12" y1="211.6" x2="199.42" y2="211.6" stroke="#222" stroke-width="0.6" />
<rect x="201.41" y="211.4" width="9.3" height="41.4" fill="#4169e1" stroke="#111" stroke-width="0.55" rx="0" />
<line x1="201.41" y1="211.6" x2="210.71" y2="211.6" stroke="#222" stroke-width="0.6" />
<rect x="212.7" y="211.4" width="9.3" height="41.4" fill="#4169e1" stroke="#111" stroke-width="0.55" rx="0" />
<line x1="212.7" y1="211.6" x2="222" y2="211.6" stroke="#222" stroke-width="0.6" />
<rect x="223.99" y="211.4" width="9.3" height="41.4" fill="#4169e1" stroke="#111" stroke-width="0.55" rx="0" />
<line x1="223.99" y1="211.6" x2="233.29" y2="211.6" stroke="#222" stroke-width="0.6" />
<rect x="235.28" y="211.4" width="9.3" height="41.4" fill="#4169e1" stroke="#111" stroke-width="0.55" rx="0" />
<line x1="235.28" y1="211.6" x2="244.58" y2="211.6" stroke="#222" stroke-width="0.6" />
<rect x="246.57" y="211.4" width="9.3" height="41.4" fill="#4169e1" stroke="#111" stroke-width="0.55" rx="0" />
<line x1="246.57" y1="211.6" x2="255.87" y2="211.6" stroke="#222" stroke-width="0.6" />
<rect x="257.86" y="211.4" width="9.3" height="41.4" fill="#4169e1" stroke="#111" stroke-width="0.55" rx="0" />
<line x1="257.86" y1="211.6" x2="267.16" y2="211.6" stroke="#222" stroke-width="0.6" />
<rect x="269.15" y="211.4" width="9.3" height="41.4" fill="#4169e1" stroke="#111" stroke-width="0.55" rx="0" />
<line x1="269.15" y1="211.6" x2="278.45" y2="211.6" stroke="#222" stroke-width="0.6" />
<text x="37.3" y="212.85" font-size="5.15" font-weight="normal" text-anchor="end" fill="#111" textLength="9.54" lengthAdjust="spacingAndGlyphs" >1.00</text>
<text x="37.3" y="221.13" font-size="5.15" font-weight="normal" text-anchor="end" fill="#111" textLength="9.54" lengthAdjust="spacingAndGlyphs" >0.98</text>
<text x="37.3" y="229.41" font-size="5.15" font-weight="normal" text-anchor="end" fill="#111" textLength="9.54" lengthAdjust="spacingAndGlyphs" >0.96</text>
<text x="37.3" y="237.69" font-size="5.15" font-weight="normal" text-anchor="end" fill="#111" textLength="9.54" lengthAdjust="spacingAndGlyphs" >0.94</text>
<text x="37.3" y="245.97" font-size="5.15" font-weight="normal" text-anchor="end" fill="#111" textLength="9.54" lengthAdjust="spacingAndGlyphs" >0.92</text>
<text x="37.3" y="254.25" font-size="5.15" font-weight="normal" text-anchor="end" fill="#111" textLength="9.54" lengthAdjust="spacingAndGlyphs" >0.90</text>
<rect x="39.4" y="257.8" width="241" height="42.2" fill="#ebebeb" stroke="none" stroke-width="0" rx="0" />
<rect x="43.35" y="258.2" width="9.3" height="41.4" fill="#4169e1" stroke="#111" stroke-width="0.55" rx="0" />
<line x1="43.35" y1="258.4" x2="52.65" y2="258.4" stroke="#222" stroke-width="0.6" />
<rect x="54.64" y="258.2" width="9.3" height="41.4" fill="#4169e1" stroke="#111" stroke-width="0.55" rx="0" />
<line x1="54.64" y1="258.4" x2="63.94" y2="258.4" stroke="#222" stroke-width="0.6" />
<rect x="65.93" y="258.2" width="9.3" height="41.4" fill="#4169e1" stroke="#111" stroke-width="0.55" rx="0" />
<line x1="65.93" y1="258.4" x2="75.23" y2="258.4" stroke="#222" stroke-width="0.6" />
<rect x="77.22" y="258.2" width="9.3" height="41.4" fill="#4169e1" stroke="#111" stroke-width="0.55" rx="0" />
<line x1="77.22" y1="258.4" x2="86.52" y2="258.4" stroke="#222" stroke-width="0.6" />
<rect x="88.51" y="258.2" width="9.3" height="41.4" fill="#4169e1" stroke="#111" stroke-width="0.55" rx="0" />
<line x1="88.51" y1="258.4" x2="97.81" y2="258.4" stroke="#222" stroke-width="0.6" />
<rect x="99.8" y="258.2" width="9.3" height="41.4" fill="#4169e1" stroke="#111" stroke-width="0.55" rx="0" />
<line x1="99.8" y1="258.4" x2="109.1" y2="258.4" stroke="#222" stroke-width="0.6" />
<rect x="111.09" y="258.2" width="9.3" height="41.4" fill="#4169e1" stroke="#111" stroke-width="0.55" rx="0" />
<line x1="111.09" y1="258.4" x2="120.39" y2="258.4" stroke="#222" stroke-width="0.6" />
<rect x="122.38" y="258.2" width="9.3" height="41.4" fill="#4169e1" stroke="#111" stroke-width="0.55" rx="0" />
<line x1="122.38" y1="258.4" x2="131.68" y2="258.4" stroke="#222" stroke-width="0.6" />
<rect x="133.67" y="258.2" width="9.3" height="41.4" fill="#4169e1" stroke="#111" stroke-width="0.55" rx="0" />
<line x1="133.67" y1="258.4" x2="142.97" y2="258.4" stroke="#222" stroke-width="0.6" />
<rect x="144.96" y="258.2" width="9.3" height="41.4" fill="#4169e1" stroke="#111" stroke-width="0.55" rx="0" />
<line x1="144.96" y1="258.4" x2="154.26" y2="258.4" stroke="#222" stroke-width="0.6" />
<rect x="156.25" y="258.2" width="9.3" height="41.4" fill="#4169e1" stroke="#111" stroke-width="0.55" rx="0" />
<line x1="156.25" y1="258.4" x2="165.55" y2="258.4" stroke="#222" stroke-width="0.6" />
<rect x="167.54" y="258.2" width="9.3" height="41.4" fill="#4169e1" stroke="#111" stroke-width="0.55" rx="0" />
<line x1="167.54" y1="258.4" x2="176.84" y2="258.4" stroke="#222" stroke-width="0.6" />
<rect x="178.83" y="258.2" width="9.3" height="41.4" fill="#4169e1" stroke="#111" stroke-width="0.55" rx="0" />
<line x1="178.83" y1="258.4" x2="188.13" y2="258.4" stroke="#222" stroke-width="0.6" />
<rect x="190.12" y="258.2" width="9.3" height="41.4" fill="#4169e1" stroke="#111" stroke-width="0.55" rx="0" />
<line x1="190.12" y1="258.4" x2="199.42" y2="258.4" stroke="#222" stroke-width="0.6" />
<rect x="201.41" y="258.2" width="9.3" height="41.4" fill="#4169e1" stroke="#111" stroke-width="0.55" rx="0" />
<line x1="201.41" y1="258.4" x2="210.71" y2="258.4" stroke="#222" stroke-width="0.6" />
<rect x="212.7" y="258.2" width="9.3" height="41.4" fill="#4169e1" stroke="#111" stroke-width="0.55" rx="0" />
<line x1="212.7" y1="258.4" x2="222" y2="258.4" stroke="#222" stroke-width="0.6" />
<rect x="223.99" y="258.2" width="9.3" height="41.4" fill="#4169e1" stroke="#111" stroke-width="0.55" rx="0" />
<line x1="223.99" y1="258.4" x2="233.29" y2="258.4" stroke="#222" stroke-width="0.6" />
<rect x="235.28" y="258.2" width="9.3" height="41.4" fill="#4169e1" stroke="#111" stroke-width="0.55" rx="0" />
<line x1="235.28" y1="258.4" x2="244.58" y2="258.4" stroke="#222" stroke-width="0.6" />
<rect x="246.57" y="258.2" width="9.3" height="41.4" fill="#4169e1" stroke="#111" stroke-width="0.55" rx="0" />
<line x1="246.57" y1="258.4" x2="255.87" y2="258.4" stroke="#222" stroke-width="0.6" />
<rect x="257.86" y="258.2" width="9.3" height="41.4" fill="#4169e1" stroke="#111" stroke-width="0.55" rx="0" />
<line x1="257.86" y1="258.4" x2="267.16" y2="258.4" stroke="#222" stroke-width="0.6" />
<rect x="269.15" y="258.2" width="9.3" height="41.4" fill="#4169e1" stroke="#111" stroke-width="0.55" rx="0" />
<line x1="269.15" y1="258.4" x2="278.45" y2="258.4" stroke="#222" stroke-width="0.6" />
<text x="37.3" y="259.65" font-size="5.15" font-weight="normal" text-anchor="end" fill="#111" textLength="9.54" lengthAdjust="spacingAndGlyphs" >1.00</text>
<text x="37.3" y="267.93" font-size="5.15" font-weight="normal" text-anchor="end" fill="#111" textLength="9.54" lengthAdjust="spacingAndGlyphs" >0.98</text>
<text x="37.3" y="276.21" font-size="5.15" font-weight="normal" text-anchor="end" fill="#111" textLength="9.54" lengthAdjust="spacingAndGlyphs" >0.96</text>
<text x="37.3" y="284.49" font-size="5.15" font-weight="normal" text-anchor="end" fill="#111" textLength="9.54" lengthAdjust="spacingAndGlyphs" >0.94</text>
<text x="37.3" y="292.77" font-size="5.15" font-weight="normal" text-anchor="end" fill="#111" textLength="9.54" lengthAdjust="spacingAndGlyphs" >0.92</text>
<text x="37.3" y="301.05" font-size="5.15" font-weight="normal" text-anchor="end" fill="#111" textLength="9.54" lengthAdjust="spacingAndGlyphs" >0.90</text>
<rect x="39.4" y="305" width="241" height="42.2" fill="#ebebeb" stroke="none" stroke-width="0" rx="0" />
<rect x="43.35" y="305.4" width="9.3" height="41.4" fill="#4169e1" stroke="#111" stroke-width="0.55" rx="0" />
<rect x="43.35" y="305.4" width="9.3" height="2.2" fill="#808080" stroke="#111" stroke-width="0.55" rx="0" />
<rect x="54.64" y="305.4" width="9.3" height="41.4" fill="#4169e1" stroke="#111" stroke-width="0.55" rx="0" />
<rect x="54.64" y="305.4" width="9.3" height="3" fill="#808080" stroke="#111" stroke-width="0.55" rx="0" />
<rect x="65.93" y="305.4" width="9.3" height="41.4" fill="#4169e1" stroke="#111" stroke-width="0.55" rx="0" />
<rect x="65.93" y="305.4" width="9.3" height="3" fill="#808080" stroke="#111" stroke-width="0.55" rx="0" />
<rect x="77.22" y="305.4" width="9.3" height="41.4" fill="#4169e1" stroke="#111" stroke-width="0.55" rx="0" />
<rect x="77.22" y="305.4" width="9.3" height="4.1" fill="#808080" stroke="#111" stroke-width="0.55" rx="0" />
<rect x="88.51" y="305.4" width="9.3" height="41.4" fill="#4169e1" stroke="#111" stroke-width="0.55" rx="0" />
<rect x="88.51" y="305.4" width="9.3" height="3.2" fill="#808080" stroke="#111" stroke-width="0.55" rx="0" />
<rect x="99.8" y="305.4" width="9.3" height="41.4" fill="#4169e1" stroke="#111" stroke-width="0.55" rx="0" />
<rect x="99.8" y="305.4" width="9.3" height="1.9" fill="#808080" stroke="#111" stroke-width="0.55" rx="0" />
<rect x="111.09" y="305.4" width="9.3" height="41.4" fill="#4169e1" stroke="#111" stroke-width="0.55" rx="0" />
<rect x="111.09" y="305.4" width="9.3" height="1.9" fill="#808080" stroke="#111" stroke-width="0.55" rx="0" />
<rect x="122.38" y="305.4" width="9.3" height="41.4" fill="#4169e1" stroke="#111" stroke-width="0.55" rx="0" />
<rect x="122.38" y="305.4" width="9.3" height="2.5" fill="#808080" stroke="#111" stroke-width="0.55" rx="0" />
<rect x="133.67" y="305.4" width="9.3" height="41.4" fill="#4169e1" stroke="#111" stroke-width="0.55" rx="0" />
<rect x="133.67" y="305.4" width="9.3" height="1.9" fill="#808080" stroke="#111" stroke-width="0.55" rx="0" />
<rect x="144.96" y="305.4" width="9.3" height="41.4" fill="#4169e1" stroke="#111" stroke-width="0.55" rx="0" />
<rect x="144.96" y="305.4" width="9.3" height="1.7" fill="#808080" stroke="#111" stroke-width="0.55" rx="0" />
<rect x="156.25" y="305.4" width="9.3" height="41.4" fill="#4169e1" stroke="#111" stroke-width="0.55" rx="0" />
<line x1="156.25" y1="305.6" x2="165.55" y2="305.6" stroke="#222" stroke-width="0.6" />
<rect x="167.54" y="305.4" width="9.3" height="41.4" fill="#4169e1" stroke="#111" stroke-width="0.55" rx="0" />
<rect x="167.54" y="305.4" width="9.3" height="1.7" fill="#808080" stroke="#111" stroke-width="0.55" rx="0" />
<rect x="178.83" y="305.4" width="9.3" height="41.4" fill="#4169e1" stroke="#111" stroke-width="0.55" rx="0" />
<rect x="178.83" y="305.4" width="9.3" height="0.8" fill="#808080" stroke="#111" stroke-width="0.55" rx="0" />
<rect x="190.12" y="305.4" width="9.3" height="41.4" fill="#4169e1" stroke="#111" stroke-width="0.55" rx="0" />
<rect x="190.12" y="305.4" width="9.3" height="1.5" fill="#808080" stroke="#111" stroke-width="0.55" rx="0" />
<rect x="201.41" y="305.4" width="9.3" height="41.4" fill="#4169e1" stroke="#111" stroke-width="0.55" rx="0" />
<rect x="201.41" y="305.4" width="9.3" height="1.7" fill="#808080" stroke="#111" stroke-width="0.55" rx="0" />
<rect x="212.7" y="305.4" width="9.3" height="41.4" fill="#4169e1" stroke="#111" stroke-width="0.55" rx="0" />
<rect x="212.7" y="305.4" width="9.3" height="1.7" fill="#808080" stroke="#111" stroke-width="0.55" rx="0" />
<rect x="223.99" y="305.4" width="9.3" height="41.4" fill="#4169e1" stroke="#111" stroke-width="0.55" rx="0" />
<rect x="223.99" y="305.4" width="9.3" height="2.7" fill="#808080" stroke="#111" stroke-width="0.55" rx="0" />
<rect x="235.28" y="305.4" width="9.3" height="41.4" fill="#4169e1" stroke="#111" stroke-width="0.55" rx="0" />
<rect x="235.28" y="305.4" width="9.3" height="2" fill="#808080" stroke="#111" stroke-width="0.55" rx="0" />
<rect x="246.57" y="305.4" width="9.3" height="41.4" fill="#4169e1" stroke="#111" stroke-width="0.55" rx="0" />
<rect x="246.57" y="305.4" width="9.3" height="4.8" fill="#808080" stroke="#111" stroke-width="0.55" rx="0" />
<rect x="257.86" y="305.4" width="9.3" height="41.4" fill="#4169e1" stroke="#111" stroke-width="0.55" rx="0" />
<rect x="257.86" y="305.4" width="9.3" height="5.8" fill="#808080" stroke="#111" stroke-width="0.55" rx="0" />
<rect x="269.15" y="305.4" width="9.3" height="41.4" fill="#4169e1" stroke="#111" stroke-width="0.55" rx="0" />
<rect x="269.15" y="305.4" width="9.3" height="2.7" fill="#808080" stroke="#111" stroke-width="0.55" rx="0" />
<text x="37.3" y="306.85" font-size="5.15" font-weight="normal" text-anchor="end" fill="#111" textLength="9.54" lengthAdjust="spacingAndGlyphs" >1.00</text>
<text x="37.3" y="315.13" font-size="5.15" font-weight="normal" text-anchor="end" fill="#111" textLength="9.54" lengthAdjust="spacingAndGlyphs" >0.98</text>
<text x="37.3" y="323.41" font-size="5.15" font-weight="normal" text-anchor="end" fill="#111" textLength="9.54" lengthAdjust="spacingAndGlyphs" >0.96</text>
<text x="37.3" y="331.69" font-size="5.15" font-weight="normal" text-anchor="end" fill="#111" textLength="9.54" lengthAdjust="spacingAndGlyphs" >0.94</text>
<text x="37.3" y="339.97" font-size="5.15" font-weight="normal" text-anchor="end" fill="#111" textLength="9.54" lengthAdjust="spacingAndGlyphs" >0.92</text>
<text x="37.3" y="348.25" font-size="5.15" font-weight="normal" text-anchor="end" fill="#111" textLength="9.54" lengthAdjust="spacingAndGlyphs" >0.90</text>
<text x="48" y="352.17" font-size="4.62" font-weight="normal" text-anchor="middle" fill="#111" textLength="6.36" lengthAdjust="spacingAndGlyphs" >-10</text>
<text x="59.29" y="352.17" font-size="4.62" font-weight="normal" text-anchor="middle" fill="#111" textLength="3.91" lengthAdjust="spacingAndGlyphs" >-9</text>
<text x="70.58" y="352.17" font-size="4.62" font-weight="normal" text-anchor="middle" fill="#111" textLength="3.91" lengthAdjust="spacingAndGlyphs" >-8</text>
<text x="81.87" y="352.17" font-size="4.62" font-weight="normal" text-anchor="middle" fill="#111" textLength="3.91" lengthAdjust="spacingAndGlyphs" >-7</text>
<text x="93.16" y="352.17" font-size="4.62" font-weight="normal" text-anchor="middle" fill="#111" textLength="3.91" lengthAdjust="spacingAndGlyphs" >-6</text>
<text x="104.45" y="352.17" font-size="4.62" font-weight="normal" text-anchor="middle" fill="#111" textLength="3.91" lengthAdjust="spacingAndGlyphs" >-5</text>
<text x="115.74" y="352.17" font-size="4.62" font-weight="normal" text-anchor="middle" fill="#111" textLength="3.91" lengthAdjust="spacingAndGlyphs" >-4</text>
<text x="127.03" y="352.17" font-size="4.62" font-weight="normal" text-anchor="middle" fill="#111" textLength="3.91" lengthAdjust="spacingAndGlyphs" >-3</text>
<text x="138.32" y="352.17" font-size="4.62" font-weight="normal" text-anchor="middle" fill="#111" textLength="3.91" lengthAdjust="spacingAndGlyphs" >-2</text>
<text x="149.61" y="352.17" font-size="4.62" font-weight="normal" text-anchor="middle" fill="#111" textLength="3.91" lengthAdjust="spacingAndGlyphs" >-1</text>
<text x="160.9" y="352.17" font-size="4.62" font-weight="normal" text-anchor="middle" fill="#111" textLength="2.45" lengthAdjust="spacingAndGlyphs" >0</text>
<text x="172.19" y="352.17" font-size="4.62" font-weight="normal" text-anchor="middle" fill="#111" textLength="5.02" lengthAdjust="spacingAndGlyphs" >+1</text>
<text x="183.48" y="352.17" font-size="4.62" font-weight="normal" text-anchor="middle" fill="#111" textLength="5.02" lengthAdjust="spacingAndGlyphs" >+2</text>
<text x="194.77" y="352.17" font-size="4.62" font-weight="normal" text-anchor="middle" fill="#111" textLength="5.02" lengthAdjust="spacingAndGlyphs" >+3</text>
<text x="206.06" y="352.17" font-size="4.62" font-weight="normal" text-anchor="middle" fill="#111" textLength="5.02" lengthAdjust="spacingAndGlyphs" >+4</text>
<text x="217.35" y="352.17" font-size="4.62" font-weight="normal" text-anchor="middle" fill="#111" textLength="5.02" lengthAdjust="spacingAndGlyphs" >+5</text>
<text x="228.64" y="352.17" font-size="4.62" font-weight="normal" text-anchor="middle" fill="#111" textLength="5.02" lengthAdjust="spacingAndGlyphs" >+6</text>
<text x="239.93" y="352.17" font-size="4.62" font-weight="normal" text-anchor="middle" fill="#111" textLength="5.02" lengthAdjust="spacingAndGlyphs" >+7</text>
<text x="251.22" y="352.17" font-size="4.62" font-weight="normal" text-anchor="middle" fill="#111" textLength="5.02" lengthAdjust="spacingAndGlyphs" >+8</text>
<text x="262.51" y="352.17" font-size="4.62" font-weight="normal" text-anchor="middle" fill="#111" textLength="5.02" lengthAdjust="spacingAndGlyphs" >+9</text>
<text x="273.8" y="352.17" font-size="4.62" font-weight="normal" text-anchor="middle" fill="#111" textLength="7.46" lengthAdjust="spacingAndGlyphs" >+10</text>
<text x="160.5" y="359.72" font-size="5.94" font-weight="bold" text-anchor="middle" fill="#000" textLength="54.3" lengthAdjust="spacingAndGlyphs" >position in 21-nt LCB</text>
<text transform="translate(23.96,186.5) rotate(-90)" font-size="4.89" font-weight="bold" text-anchor="middle" fill="#000" textLength="42.98" lengthAdjust="spacingAndGlyphs" >1.0 - substitution rate</text>
<text transform="translate(24.04,232.1) rotate(-90)" font-size="5.13" font-weight="bold" text-anchor="middle" fill="#000" textLength="38.42" lengthAdjust="spacingAndGlyphs" >1.0 - insertion rate</text>
<text transform="translate(24.06,278.9) rotate(-90)" font-size="5.17" font-weight="bold" text-anchor="middle" fill="#000" textLength="37.01" lengthAdjust="spacingAndGlyphs" >1.0 - deletion rate</text>
<text transform="translate(18.1,323.4) rotate(-90)" font-size="4.7" font-weight="bold" text-anchor="middle" fill="#000" textLength="54.76" lengthAdjust="spacingAndGlyphs" >1.0 - (substitution, insertion,</text>
<text transform="translate(23.88,326.1) rotate(-90)" font-size="4.63" font-weight="bold" text-anchor="middle" fill="#000" textLength="33.59" lengthAdjust="spacingAndGlyphs" >and deletion) rate</text>
<rect x="329" y="172" width="96.4" height="175.7" fill="#ebebeb" stroke="none" stroke-width="0" rx="0" />
<line x1="329" y1="346.9" x2="425.4" y2="346.9" stroke="#ffffff" stroke-width="0.6" />
<text x="326.9" y="348.8" font-size="5.6" font-weight="bold" text-anchor="end" fill="#000" >0</text>
<line x1="329" y1="325.1" x2="425.4" y2="325.1" stroke="#ffffff" stroke-width="0.6" />
<text x="326.9" y="327" font-size="5.6" font-weight="bold" text-anchor="end" fill="#000" >100</text>
<line x1="329" y1="303.3" x2="425.4" y2="303.3" stroke="#ffffff" stroke-width="0.6" />
<text x="326.9" y="305.2" font-size="5.6" font-weight="bold" text-anchor="end" fill="#000" >200</text>
<line x1="329" y1="281.5" x2="425.4" y2="281.5" stroke="#ffffff" stroke-width="0.6" />
<text x="326.9" y="283.4" font-size="5.6" font-weight="bold" text-anchor="end" fill="#000" >300</text>
<line x1="329" y1="259.7" x2="425.4" y2="259.7" stroke="#ffffff" stroke-width="0.6" />
<text x="326.9" y="261.6" font-size="5.6" font-weight="bold" text-anchor="end" fill="#000" >400</text>
<line x1="329" y1="237.9" x2="425.4" y2="237.9" stroke="#ffffff" stroke-width="0.6" />
<text x="326.9" y="239.8" font-size="5.6" font-weight="bold" text-anchor="end" fill="#000" >500</text>
<line x1="329" y1="216.1" x2="425.4" y2="216.1" stroke="#ffffff" stroke-width="0.6" />
<text x="326.9" y="218" font-size="5.6" font-weight="bold" text-anchor="end" fill="#000" >600</text>
<line x1="329" y1="194.3" x2="425.4" y2="194.3" stroke="#ffffff" stroke-width="0.6" />
<text x="326.9" y="196.2" font-size="5.6" font-weight="bold" text-anchor="end" fill="#000" >700</text>
<line x1="329" y1="172.5" x2="425.4" y2="172.5" stroke="#ffffff" stroke-width="0.6" />
<text x="326.9" y="174.4" font-size="5.6" font-weight="bold" text-anchor="end" fill="#000" >800</text>
<line x1="329" y1="336" x2="425.4" y2="336" stroke="#f5f5f5" stroke-width="0.3" />
<line x1="329" y1="314.2" x2="425.4" y2="314.2" stroke="#f5f5f5" stroke-width="0.3" />
<line x1="329" y1="292.4" x2="425.4" y2="292.4" stroke="#f5f5f5" stroke-width="0.3" />
<line x1="329" y1="270.6" x2="425.4" y2="270.6" stroke="#f5f5f5" stroke-width="0.3" />
<line x1="329" y1="248.8" x2="425.4" y2="248.8" stroke="#f5f5f5" stroke-width="0.3" />
<line x1="329" y1="227" x2="425.4" y2="227" stroke="#f5f5f5" stroke-width="0.3" />
<line x1="329" y1="205.2" x2="425.4" y2="205.2" stroke="#f5f5f5" stroke-width="0.3" />
<line x1="329" y1="183.4" x2="425.4" y2="183.4" stroke="#f5f5f5" stroke-width="0.3" />
<line x1="345" y1="172" x2="345" y2="347.7" stroke="#ffffff" stroke-width="0.6" />
<line x1="366.6" y1="172" x2="366.6" y2="347.7" stroke="#ffffff" stroke-width="0.6" />
<line x1="388.4" y1="172" x2="388.4" y2="347.7" stroke="#ffffff" stroke-width="0.6" />
<line x1="410.3" y1="172" x2="410.3" y2="347.7" stroke="#ffffff" stroke-width="0.6" />
<line x1="345" y1="212" x2="345" y2="258.5" stroke="#333" stroke-width="0.6" />
<line x1="345" y1="288.4" x2="345" y2="334.2" stroke="#333" stroke-width="0.6" />
<line x1="342.6" y1="212" x2="347.4" y2="212" stroke="#333" stroke-width="0.6" />
<line x1="342.6" y1="334.2" x2="347.4" y2="334.2" stroke="#333" stroke-width="0.6" />
<rect x="336.1" y="258.5" width="17.8" height="29.9" fill="#7f7f7f" stroke="#222" stroke-width="0.55" rx="0" />
<line x1="336.1" y1="271.6" x2="353.9" y2="271.6" stroke="#222" stroke-width="0.8" />
<line x1="366.6" y1="203.8" x2="366.6" y2="254.3" stroke="#333" stroke-width="0.6" />
<line x1="366.6" y1="287.6" x2="366.6" y2="336.3" stroke="#333" stroke-width="0.6" />
<line x1="364.2" y1="203.8" x2="369" y2="203.8" stroke="#333" stroke-width="0.6" />
<line x1="364.2" y1="336.3" x2="369" y2="336.3" stroke="#333" stroke-width="0.6" />
<rect x="357.7" y="254.3" width="17.8" height="33.3" fill="#7f7f7f" stroke="#222" stroke-width="0.55" rx="0" />
<line x1="357.7" y1="271.6" x2="375.5" y2="271.6" stroke="#222" stroke-width="0.8" />
<line x1="388.4" y1="211.4" x2="388.4" y2="256.3" stroke="#333" stroke-width="0.6" />
<line x1="388.4" y1="286.7" x2="388.4" y2="330.9" stroke="#333" stroke-width="0.6" />
<line x1="386" y1="211.4" x2="390.8" y2="211.4" stroke="#333" stroke-width="0.6" />
<line x1="386" y1="330.9" x2="390.8" y2="330.9" stroke="#333" stroke-width="0.6" />
<rect x="379.5" y="256.3" width="17.8" height="30.4" fill="#df3a26" stroke="#222" stroke-width="0.55" rx="0" />
<line x1="379.5" y1="272.4" x2="397.3" y2="272.4" stroke="#222" stroke-width="0.8" />
<line x1="410.3" y1="222.5" x2="410.3" y2="260.9" stroke="#333" stroke-width="0.6" />
<line x1="410.3" y1="287.6" x2="410.3" y2="327.3" stroke="#333" stroke-width="0.6" />
<line x1="407.9" y1="222.5" x2="412.7" y2="222.5" stroke="#333" stroke-width="0.6" />
<line x1="407.9" y1="327.3" x2="412.7" y2="327.3" stroke="#333" stroke-width="0.6" />
<rect x="401.4" y="260.9" width="17.8" height="26.7" fill="#df3a26" stroke="#222" stroke-width="0.55" rx="0" />
<line x1="401.4" y1="273.6" x2="419.2" y2="273.6" stroke="#222" stroke-width="0.8" />
<rect x="376.9" y="174.6" width="46.4" height="16.1" fill="#f7f7f7" stroke="none" stroke-width="0" rx="0" />
<circle cx="381.2" cy="179.4" r="1.35" fill="#8c8c8c"/>
<circle cx="381.2" cy="186.1" r="1.45" fill="#e0102a"/>
<text x="387" y="181.32" font-size="6.24" font-weight="bold" text-anchor="start" fill="#000" textLength="33.03" lengthAdjust="spacingAndGlyphs" >unmodified A</text>
<text x="387" y="188.12" font-size="6.24" font-weight="bold" text-anchor="start" fill="#000" >m<tspan font-size="3" dy="-1.8">6</tspan><tspan dy="1.8">A</tspan></text>
<text x="345" y="356.62" font-size="6.24" font-weight="bold" text-anchor="middle" fill="#000" textLength="10.98" lengthAdjust="spacingAndGlyphs" >rep1</text>
<text x="366.6" y="356.62" font-size="6.24" font-weight="bold" text-anchor="middle" fill="#000" textLength="10.98" lengthAdjust="spacingAndGlyphs" >rep2</text>
<text x="388.4" y="356.62" font-size="6.24" font-weight="bold" text-anchor="middle" fill="#000" textLength="10.98" lengthAdjust="spacingAndGlyphs" >rep1</text>
<text x="410.3" y="356.62" font-size="6.24" font-weight="bold" text-anchor="middle" fill="#000" textLength="10.98" lengthAdjust="spacingAndGlyphs" >rep2</text>
<text transform="translate(310.2,258.8) rotate(-90)" font-size="5.59" font-weight="bold" text-anchor="middle" fill="#000" textLength="33.91" lengthAdjust="spacingAndGlyphs" >read length (nt)</text>
<defs><linearGradient id="cb" x1="0" y1="0" x2="0" y2="1"><stop offset="0" stop-color="#2c105c"/><stop offset="0.3" stop-color="#711f81"/><stop offset="0.55" stop-color="#b63679"/><stop offset="0.8" stop-color="#ee605e"/><stop offset="1" stop-color="#fdbb84"/></linearGradient></defs>
<rect x="482.1" y="172.2" width="42.8" height="43.1" fill="#e6e6e6" stroke="#9c9c9c" stroke-width="0.7" rx="0" />
<text x="503.5" y="191.54" font-size="5.57" font-weight="bold" text-anchor="middle" fill="#000" textLength="3.83" lengthAdjust="spacingAndGlyphs" >A</text>
<text x="503.5" y="198.74" font-size="5.57" font-weight="bold" text-anchor="middle" fill="#000" textLength="11.2" lengthAdjust="spacingAndGlyphs" >rep1</text>
<rect x="528" y="172.2" width="43" height="43.1" fill="#ffffff" stroke="#9c9c9c" stroke-width="0.7" rx="0" />
<polygon points="528.47,213.14 532.4,208.73 539.69,200.86 543.74,195.83 546.5,192.52 549.15,190.62 552.45,186.34 555.38,183.21 560.91,178.13 564.36,175.5 567.93,173.77 569.04,174.86 567.17,178.29 564.67,181.84 559.47,187.26 556.37,190.23 552.43,193.87 550.09,196.07 546.9,198.95 542.25,203.39 534.49,210.8 530.18,214.83" fill="#9a7bb8" opacity="0.55" stroke-linejoin="round"/>
<polygon points="529.02,212.92 532.66,208.99 539.94,201.11 544.08,196.16 546.84,192.86 549.49,190.96 552.79,186.68 555.72,183.55 561.26,178.47 564.74,175.88 566.97,175.08 567.74,175.84 566.83,177.95 564.33,181.51 559.13,186.93 556.03,189.89 552.09,193.53 549.79,195.77 546.64,198.7 541.99,203.14 534.24,210.55 530.38,214.28" fill="#461669" opacity="0.97" stroke-linejoin="round"/>
<polygon points="530.2,212.58 540.54,201.71 549.84,192.05 557.38,184.43 563.25,178.93 564.01,179.69 558.57,185.62 551.12,193.32 541.48,202.63 530.71,213.09" fill="#6a2387" opacity="0.9" stroke-linejoin="round"/>
<line x1="541.01" y1="202.17" x2="554.58" y2="188.45" stroke="#b8387c" stroke-width="1.0" stroke-linecap="round"/>
<line x1="530.83" y1="212.46" x2="547.42" y2="195.69" stroke="#f58a50" stroke-width="0.75" stroke-linecap="round"/>
<text x="528.9" y="178.1" font-size="5.4" font-weight="bold" fill="#000"><tspan font-style="italic">R</tspan><tspan font-size="3.2" dy="-2">2</tspan><tspan dy="2"> (</tspan><tspan font-style="italic">&#961;</tspan><tspan font-size="3.2" dy="-2">2</tspan><tspan dy="2">)=</tspan></text>
<text x="529.1" y="184.7" font-size="6.5" font-weight="bold" fill="#000" textLength="14.8" lengthAdjust="spacingAndGlyphs">0.995</text>
<text x="545.1" y="184.7" font-size="5.0" font-weight="bold" fill="#222" textLength="15.0" lengthAdjust="spacingAndGlyphs">(0.995)</text>
<rect x="573.8" y="172.2" width="42.7" height="43.1" fill="#ffffff" stroke="#9c9c9c" stroke-width="0.7" rx="0" />
<polygon points="574.27,213.14 578.17,208.74 585.39,200.87 589.41,195.83 592.14,192.53 594.77,190.62 598.04,186.35 600.95,183.22 606.44,178.14 609.86,175.51 613.42,173.77 614.54,174.86 612.69,178.28 610.21,181.84 605.06,187.26 601.98,190.22 598.07,193.86 595.74,196.06 592.58,198.94 587.96,203.39 580.27,210.8 575.98,214.82" fill="#9a7bb8" opacity="0.55" stroke-linejoin="round"/>
<polygon points="574.81,212.93 578.43,208.99 585.65,201.12 589.75,196.17 592.49,192.87 595.12,190.96 598.39,186.69 601.29,183.56 606.78,178.47 610.25,175.89 612.47,175.08 613.24,175.84 612.35,177.95 609.87,181.5 604.72,186.92 601.64,189.88 597.73,193.52 595.44,195.77 592.32,198.69 587.7,203.14 580.01,210.55 576.19,214.27" fill="#461669" opacity="0.97" stroke-linejoin="round"/>
<polygon points="575.99,212.59 586.25,201.71 595.47,192.06 602.95,184.44 608.77,178.93 609.55,179.69 604.15,185.61 596.76,193.32 587.19,202.63 576.5,213.09" fill="#6a2387" opacity="0.9" stroke-linejoin="round"/>
<line x1="586.72" y1="202.17" x2="600.18" y2="188.45" stroke="#b8387c" stroke-width="1.0" stroke-linecap="round"/>
<line x1="576.62" y1="212.46" x2="593.08" y2="195.69" stroke="#f58a50" stroke-width="0.75" stroke-linecap="round"/>
<text x="574.8" y="178" font-size="6.5" font-weight="bold" fill="#000" textLength="14.8" lengthAdjust="spacingAndGlyphs">0.990</text>
<text x="590.1" y="178" font-size="5.0" font-weight="bold" fill="#222" textLength="15.0" lengthAdjust="spacingAndGlyphs">(0.989)</text>
<rect x="619.3" y="172.2" width="43.3" height="43.1" fill="#ffffff" stroke="#9c9c9c" stroke-width="0.7" rx="0" />
<polygon points="619.77,213.13 623.74,208.73 631.08,200.86 635.18,195.82 637.96,192.52 640.62,190.61 643.96,186.34 646.91,183.2 652.49,178.12 655.95,175.5 659.55,173.76 660.65,174.87 658.75,178.3 656.22,181.85 650.99,187.27 647.86,190.23 643.89,193.87 641.53,196.08 638.32,198.95 633.63,203.4 625.82,210.81 621.47,214.83" fill="#9a7bb8" opacity="0.55" stroke-linejoin="round"/>
<polygon points="620.32,212.92 623.99,208.98 631.34,201.11 635.52,196.16 638.3,192.86 640.96,190.95 644.3,186.67 647.25,183.54 652.83,178.46 656.33,175.88 658.58,175.08 659.34,175.84 658.41,177.96 655.88,181.51 650.65,186.93 647.52,189.89 643.55,193.54 641.23,195.78 638.06,198.7 633.38,203.14 625.56,210.55 621.68,214.28" fill="#461669" opacity="0.97" stroke-linejoin="round"/>
<polygon points="621.51,212.58 631.93,201.7 641.31,192.05 648.91,184.43 654.82,178.93 655.58,179.69 650.09,185.62 642.58,193.32 632.87,202.64 622.01,213.09" fill="#6a2387" opacity="0.9" stroke-linejoin="round"/>
<line x1="632.4" y1="202.17" x2="646.08" y2="188.45" stroke="#b8387c" stroke-width="1.0" stroke-linecap="round"/>
<line x1="622.14" y1="212.46" x2="638.86" y2="195.69" stroke="#f58a50" stroke-width="0.75" stroke-linecap="round"/>
<text x="620.3" y="178" font-size="6.5" font-weight="bold" fill="#000" textLength="14.8" lengthAdjust="spacingAndGlyphs">0.992</text>
<text x="635.6" y="178" font-size="5.0" font-weight="bold" fill="#222" textLength="15.0" lengthAdjust="spacingAndGlyphs">(0.991)</text>
<text x="481.2" y="184.27" font-size="5.8" font-weight="bold" text-anchor="end" fill="#000" >2.0</text>
<text x="481.2" y="211.77" font-size="5.8" font-weight="bold" text-anchor="end" fill="#000" >-1.0</text>
<rect x="482.1" y="217.3" width="42.8" height="42.9" fill="#ffffff" stroke="#9c9c9c" stroke-width="0.7" rx="0" />
<polygon points="482.57,258.03 486.48,253.65 493.73,245.82 497.76,240.81 500.5,237.52 503.14,235.63 506.42,231.38 509.33,228.26 514.84,223.21 518.26,220.6 521.83,218.87 522.94,219.97 521.08,223.38 518.59,226.92 513.43,232.31 510.34,235.26 506.42,238.88 504.09,241.07 500.91,243.93 496.29,248.35 488.57,255.72 484.28,259.72" fill="#9a7bb8" opacity="0.55" stroke-linejoin="round"/>
<polygon points="483.12,257.82 486.74,253.91 493.98,246.07 498.1,241.15 500.84,237.86 503.48,235.97 506.76,231.71 509.67,228.6 515.18,223.54 518.65,220.98 520.87,220.18 521.64,220.94 520.74,223.04 518.25,226.58 513.09,231.97 510,234.92 506.08,238.54 503.79,240.77 500.66,243.68 496.03,248.1 488.32,255.47 484.48,259.18" fill="#461669" opacity="0.97" stroke-linejoin="round"/>
<polygon points="484.29,257.49 494.58,246.67 503.83,237.06 511.33,229.48 517.17,224.01 517.93,224.77 512.52,230.67 505.11,238.33 495.52,247.59 484.81,258" fill="#6a2387" opacity="0.9" stroke-linejoin="round"/>
<line x1="495.05" y1="247.13" x2="508.55" y2="233.49" stroke="#b8387c" stroke-width="1.0" stroke-linecap="round"/>
<line x1="484.93" y1="257.36" x2="501.42" y2="240.69" stroke="#f58a50" stroke-width="0.75" stroke-linecap="round"/>
<text x="483.1" y="223.1" font-size="6.5" font-weight="bold" fill="#000" textLength="14.8" lengthAdjust="spacingAndGlyphs">0.995</text>
<text x="498.4" y="223.1" font-size="5.0" font-weight="bold" fill="#222" textLength="15.0" lengthAdjust="spacingAndGlyphs">(0.995)</text>
<rect x="528" y="217.3" width="43" height="42.9" fill="#e6e6e6" stroke="#9c9c9c" stroke-width="0.7" rx="0" />
<text x="549.5" y="236.54" font-size="5.57" font-weight="bold" text-anchor="middle" fill="#000" textLength="3.83" lengthAdjust="spacingAndGlyphs" >A</text>
<text x="549.5" y="243.74" font-size="5.57" font-weight="bold" text-anchor="middle" fill="#000" textLength="11.2" lengthAdjust="spacingAndGlyphs" >rep2</text>
<rect x="573.8" y="217.3" width="42.7" height="42.9" fill="#ffffff" stroke="#9c9c9c" stroke-width="0.7" rx="0" />
<polygon points="574.27,258.04 578.17,253.66 585.4,245.82 589.41,240.81 592.15,237.53 594.78,235.63 598.05,231.38 600.96,228.26 606.45,223.21 609.87,220.6 613.42,218.87 614.53,219.97 612.69,223.38 610.21,226.92 605.06,232.31 601.98,235.26 598.07,238.88 595.74,241.07 592.57,243.93 587.96,248.35 580.26,255.72 575.98,259.72" fill="#9a7bb8" opacity="0.55" stroke-linejoin="round"/>
<polygon points="574.82,257.83 578.43,253.91 585.65,246.08 589.76,241.15 592.49,237.86 595.12,235.97 598.39,231.72 601.3,228.6 606.79,223.55 610.25,220.98 612.47,220.18 613.24,220.94 612.34,223.04 609.86,226.58 604.71,231.97 601.64,234.92 597.73,238.54 595.44,240.77 592.32,243.68 587.7,248.1 580.01,255.47 576.18,259.17" fill="#461669" opacity="0.97" stroke-linejoin="round"/>
<polygon points="575.99,257.49 586.25,246.67 595.47,237.06 602.95,229.48 608.78,224.01 609.54,224.77 604.15,230.67 596.75,238.33 587.19,247.59 576.5,257.99" fill="#6a2387" opacity="0.9" stroke-linejoin="round"/>
<line x1="586.72" y1="247.13" x2="600.18" y2="233.49" stroke="#b8387c" stroke-width="1.0" stroke-linecap="round"/>
<line x1="576.62" y1="257.36" x2="593.08" y2="240.69" stroke="#f58a50" stroke-width="0.75" stroke-linecap="round"/>
<text x="574.8" y="223.1" font-size="6.5" font-weight="bold" fill="#000" textLength="14.8" lengthAdjust="spacingAndGlyphs">0.991</text>
<text x="590.1" y="223.1" font-size="5.0" font-weight="bold" fill="#222" textLength="15.0" lengthAdjust="spacingAndGlyphs">(0.990)</text>
<rect x="619.3" y="217.3" width="43.3" height="42.9" fill="#ffffff" stroke="#9c9c9c" stroke-width="0.7" rx="0" />
<polygon points="619.77,258.03 623.74,253.65 631.09,245.81 635.18,240.8 637.97,237.51 640.63,235.62 643.96,231.36 646.92,228.24 652.49,223.19 655.95,220.59 659.55,218.87 660.65,219.97 658.75,223.39 656.22,226.93 650.98,232.32 647.86,235.27 643.89,238.89 641.53,241.08 638.32,243.94 633.63,248.36 625.82,255.73 621.47,259.73" fill="#9a7bb8" opacity="0.55" stroke-linejoin="round"/>
<polygon points="620.32,257.82 623.99,253.9 631.34,246.07 635.52,241.14 638.31,237.85 640.97,235.96 644.3,231.7 647.26,228.58 652.83,223.53 656.34,220.97 658.58,220.18 659.34,220.94 658.41,223.05 655.88,226.59 650.65,231.98 647.52,234.93 643.55,238.55 641.23,240.78 638.06,243.69 633.37,248.11 625.56,255.47 621.68,259.18" fill="#461669" opacity="0.97" stroke-linejoin="round"/>
<polygon points="621.51,257.49 631.93,246.66 641.31,237.06 648.91,229.48 654.82,224.01 655.58,224.77 650.09,230.67 642.58,238.33 632.87,247.6 622.01,258" fill="#6a2387" opacity="0.9" stroke-linejoin="round"/>
<line x1="632.4" y1="247.13" x2="646.08" y2="233.49" stroke="#b8387c" stroke-width="1.0" stroke-linecap="round"/>
<line x1="622.14" y1="257.36" x2="638.86" y2="240.69" stroke="#f58a50" stroke-width="0.75" stroke-linecap="round"/>
<text x="620.3" y="223.1" font-size="6.5" font-weight="bold" fill="#000" textLength="14.8" lengthAdjust="spacingAndGlyphs">0.993</text>
<text x="635.6" y="223.1" font-size="5.0" font-weight="bold" fill="#222" textLength="15.0" lengthAdjust="spacingAndGlyphs">(0.992)</text>
<text x="481.2" y="229.37" font-size="5.8" font-weight="bold" text-anchor="end" fill="#000" >2.0</text>
<text x="481.2" y="256.87" font-size="5.8" font-weight="bold" text-anchor="end" fill="#000" >-1.0</text>
<rect x="482.1" y="263.1" width="42.8" height="42.9" fill="#ffffff" stroke="#9c9c9c" stroke-width="0.7" rx="0" />
<polygon points="482.57,303.83 486.48,299.45 493.73,291.62 497.76,286.61 500.5,283.32 503.14,281.43 506.42,277.18 509.33,274.06 514.84,269.01 518.26,266.4 521.83,264.67 522.94,265.77 521.08,269.18 518.59,272.72 513.43,278.11 510.34,281.06 506.42,284.68 504.09,286.87 500.91,289.73 496.29,294.15 488.57,301.52 484.28,305.52" fill="#9a7bb8" opacity="0.55" stroke-linejoin="round"/>
<polygon points="483.12,303.62 486.74,299.71 493.98,291.87 498.1,286.95 500.84,283.66 503.48,281.77 506.76,277.51 509.67,274.4 515.18,269.34 518.65,266.78 520.87,265.98 521.64,266.74 520.74,268.84 518.25,272.38 513.09,277.77 510,280.72 506.08,284.34 503.79,286.57 500.66,289.48 496.03,293.9 488.32,301.27 484.48,304.98" fill="#461669" opacity="0.97" stroke-linejoin="round"/>
<polygon points="484.29,303.29 494.58,292.47 503.83,282.86 511.33,275.28 517.17,269.81 517.93,270.57 512.52,276.47 505.11,284.13 495.52,293.39 484.81,303.8" fill="#6a2387" opacity="0.9" stroke-linejoin="round"/>
<line x1="495.05" y1="292.93" x2="508.55" y2="279.29" stroke="#b8387c" stroke-width="1.0" stroke-linecap="round"/>
<line x1="484.93" y1="303.16" x2="501.42" y2="286.49" stroke="#f58a50" stroke-width="0.75" stroke-linecap="round"/>
<text x="483.1" y="268.9" font-size="6.5" font-weight="bold" fill="#000" textLength="14.8" lengthAdjust="spacingAndGlyphs">0.990</text>
<text x="498.4" y="268.9" font-size="5.0" font-weight="bold" fill="#222" textLength="15.0" lengthAdjust="spacingAndGlyphs">(0.989)</text>
<rect x="528" y="263.1" width="43" height="42.9" fill="#ffffff" stroke="#9c9c9c" stroke-width="0.7" rx="0" />
<polygon points="528.47,303.83 532.41,299.45 539.69,291.62 543.75,286.6 546.51,283.32 549.15,281.43 552.46,277.17 555.39,274.05 560.92,269 564.36,266.39 567.94,264.67 569.04,265.77 567.17,269.19 564.66,272.73 559.47,278.12 556.37,281.06 552.43,284.68 550.08,286.87 546.9,289.74 542.24,294.16 534.49,301.53 530.17,305.53" fill="#9a7bb8" opacity="0.55" stroke-linejoin="round"/>
<polygon points="529.02,303.62 532.66,299.71 539.95,291.87 544.09,286.94 546.85,283.66 549.49,281.76 552.8,277.51 555.73,274.39 561.26,269.34 564.74,266.77 566.97,265.98 567.74,266.74 566.83,268.85 564.32,272.39 559.13,277.78 556.03,280.72 552.09,284.35 549.78,286.58 546.64,289.48 541.99,293.9 534.24,301.27 530.38,304.98" fill="#461669" opacity="0.97" stroke-linejoin="round"/>
<polygon points="530.2,303.29 540.54,292.46 549.84,282.86 557.38,275.28 563.25,269.81 564.01,270.57 558.57,276.47 551.12,284.13 541.48,293.4 530.71,303.8" fill="#6a2387" opacity="0.9" stroke-linejoin="round"/>
<line x1="541.01" y1="292.93" x2="554.58" y2="279.29" stroke="#b8387c" stroke-width="1.0" stroke-linecap="round"/>
<line x1="530.83" y1="303.16" x2="547.42" y2="286.49" stroke="#f58a50" stroke-width="0.75" stroke-linecap="round"/>
<text x="529" y="268.9" font-size="6.5" font-weight="bold" fill="#000" textLength="14.8" lengthAdjust="spacingAndGlyphs">0.991</text>
<text x="544.3" y="268.9" font-size="5.0" font-weight="bold" fill="#222" textLength="15.0" lengthAdjust="spacingAndGlyphs">(0.990)</text>
<rect x="573.8" y="263.1" width="42.7" height="42.9" fill="#e6e6e6" stroke="#9c9c9c" stroke-width="0.7" rx="0" />
<text x="595.15" y="282.34" font-size="5.57" font-weight="bold" text-anchor="middle" fill="#000" >m<tspan font-size="2.9" dy="-1.7">6</tspan><tspan dy="1.7">A</tspan></text>
<text x="595.15" y="289.54" font-size="5.57" font-weight="bold" text-anchor="middle" fill="#000" textLength="11.2" lengthAdjust="spacingAndGlyphs" >rep1</text>
<rect x="619.3" y="263.1" width="43.3" height="42.9" fill="#ffffff" stroke="#9c9c9c" stroke-width="0.7" rx="0" />
<polygon points="619.77,303.83 623.74,299.45 631.09,291.61 635.18,286.6 637.97,283.31 640.63,281.42 643.96,277.16 646.92,274.04 652.49,268.99 655.95,266.39 659.55,264.67 660.65,265.77 658.75,269.19 656.22,272.73 650.98,278.12 647.86,281.07 643.89,284.69 641.53,286.88 638.32,289.74 633.63,294.16 625.82,301.53 621.47,305.53" fill="#9a7bb8" opacity="0.55" stroke-linejoin="round"/>
<polygon points="620.32,303.62 623.99,299.7 631.34,291.87 635.52,286.94 638.31,283.65 640.97,281.76 644.3,277.5 647.26,274.38 652.83,269.33 656.34,266.77 658.58,265.98 659.34,266.74 658.41,268.85 655.88,272.39 650.65,277.78 647.52,280.73 643.55,284.35 641.23,286.58 638.06,289.49 633.37,293.91 625.56,301.27 621.68,304.98" fill="#461669" opacity="0.97" stroke-linejoin="round"/>
<polygon points="621.51,303.29 631.93,292.46 641.31,282.86 648.91,275.28 654.82,269.81 655.58,270.57 650.09,276.47 642.58,284.13 632.87,293.4 622.01,303.8" fill="#6a2387" opacity="0.9" stroke-linejoin="round"/>
<line x1="632.4" y1="292.93" x2="646.08" y2="279.29" stroke="#b8387c" stroke-width="1.0" stroke-linecap="round"/>
<line x1="622.14" y1="303.16" x2="638.86" y2="286.49" stroke="#f58a50" stroke-width="0.75" stroke-linecap="round"/>
<text x="620.3" y="268.9" font-size="6.5" font-weight="bold" fill="#000" textLength="14.8" lengthAdjust="spacingAndGlyphs">0.995</text>
<text x="635.6" y="268.9" font-size="5.0" font-weight="bold" fill="#222" textLength="15.0" lengthAdjust="spacingAndGlyphs">(0.995)</text>
<text x="481.2" y="275.17" font-size="5.8" font-weight="bold" text-anchor="end" fill="#000" >2.0</text>
<text x="481.2" y="302.67" font-size="5.8" font-weight="bold" text-anchor="end" fill="#000" >-1.0</text>
<rect x="482.1" y="308.4" width="42.8" height="43.3" fill="#ffffff" stroke="#9c9c9c" stroke-width="0.7" rx="0" />
<polygon points="482.57,349.54 486.48,345.12 493.72,337.21 497.75,332.15 500.49,328.84 503.13,326.91 506.41,322.62 509.32,319.48 514.83,314.37 518.26,311.72 521.82,309.96 522.94,311.05 521.09,314.49 518.6,318.06 513.44,323.5 510.35,326.49 506.43,330.15 504.09,332.36 500.92,335.26 496.29,339.73 488.58,347.18 484.28,351.22" fill="#9a7bb8" opacity="0.55" stroke-linejoin="round"/>
<polygon points="483.11,349.33 486.74,345.37 493.98,337.46 498.09,332.49 500.84,329.17 503.47,327.25 506.75,322.96 509.66,319.81 515.17,314.7 518.64,312.1 520.87,311.28 521.64,312.04 520.74,314.16 518.26,317.72 513.09,323.17 510.01,326.15 506.09,329.81 503.79,332.07 500.66,335.01 496.04,339.48 488.32,346.93 484.49,350.67" fill="#461669" opacity="0.97" stroke-linejoin="round"/>
<polygon points="484.29,348.98 494.58,338.05 503.82,328.35 511.32,320.69 517.16,315.15 517.94,315.91 512.53,321.86 505.11,329.61 495.52,338.97 484.81,349.49" fill="#6a2387" opacity="0.9" stroke-linejoin="round"/>
<line x1="495.05" y1="338.51" x2="508.55" y2="324.72" stroke="#b8387c" stroke-width="1.0" stroke-linecap="round"/>
<line x1="484.93" y1="348.85" x2="501.42" y2="332" stroke="#f58a50" stroke-width="0.75" stroke-linecap="round"/>
<text x="483.1" y="314.2" font-size="6.5" font-weight="bold" fill="#000" textLength="14.8" lengthAdjust="spacingAndGlyphs">0.992</text>
<text x="498.4" y="314.2" font-size="5.0" font-weight="bold" fill="#222" textLength="15.0" lengthAdjust="spacingAndGlyphs">(0.991)</text>
<rect x="528" y="308.4" width="43" height="43.3" fill="#ffffff" stroke="#9c9c9c" stroke-width="0.7" rx="0" />
<polygon points="528.47,349.54 532.4,345.12 539.68,337.21 543.74,332.15 546.5,328.83 549.14,326.91 552.44,322.62 555.37,319.47 560.91,314.36 564.35,311.72 567.93,309.96 569.04,311.06 567.17,314.49 564.67,318.06 559.48,323.51 556.38,326.49 552.44,330.15 550.09,332.37 546.9,335.26 542.25,339.73 534.5,347.18 530.18,351.22" fill="#9a7bb8" opacity="0.55" stroke-linejoin="round"/>
<polygon points="529.02,349.33 532.66,345.37 539.94,337.46 544.08,332.48 546.84,329.17 549.49,327.25 552.79,322.95 555.72,319.81 561.25,314.7 564.74,312.1 566.97,311.28 567.74,312.04 566.83,314.16 564.33,317.73 559.14,323.17 556.04,326.15 552.09,329.81 549.79,332.07 546.65,335.01 541.99,339.48 534.24,346.93 530.38,350.67" fill="#461669" opacity="0.97" stroke-linejoin="round"/>
<polygon points="530.2,348.98 540.54,338.05 549.84,328.35 557.38,320.69 563.25,315.15 564.01,315.91 558.57,321.86 551.12,329.61 541.48,338.97 530.71,349.49" fill="#6a2387" opacity="0.9" stroke-linejoin="round"/>
<line x1="541.01" y1="338.51" x2="554.58" y2="324.72" stroke="#b8387c" stroke-width="1.0" stroke-linecap="round"/>
<line x1="530.83" y1="348.85" x2="547.42" y2="332" stroke="#f58a50" stroke-width="0.75" stroke-linecap="round"/>
<text x="529" y="314.2" font-size="6.5" font-weight="bold" fill="#000" textLength="14.8" lengthAdjust="spacingAndGlyphs">0.993</text>
<text x="544.3" y="314.2" font-size="5.0" font-weight="bold" fill="#222" textLength="15.0" lengthAdjust="spacingAndGlyphs">(0.992)</text>
<rect x="573.8" y="308.4" width="42.7" height="43.3" fill="#ffffff" stroke="#9c9c9c" stroke-width="0.7" rx="0" />
<polygon points="574.27,349.54 578.17,345.12 585.39,337.21 589.41,332.15 592.14,328.84 594.77,326.92 598.04,322.63 600.94,319.48 606.44,314.37 609.86,311.72 613.42,309.96 614.54,311.05 612.69,314.49 610.21,318.06 605.06,323.5 601.99,326.48 598.08,330.14 595.75,332.36 592.58,335.26 587.96,339.73 580.27,347.18 575.98,351.22" fill="#9a7bb8" opacity="0.55" stroke-linejoin="round"/>
<polygon points="574.81,349.33 578.42,345.37 585.65,337.46 589.75,332.49 592.48,329.17 595.11,327.25 598.38,322.96 601.29,319.81 606.78,314.7 610.24,312.1 612.47,311.28 613.24,312.04 612.35,314.15 609.87,317.72 604.72,323.17 601.64,326.15 597.73,329.81 595.44,332.07 592.32,335 587.71,339.47 580.01,346.92 576.19,350.67" fill="#461669" opacity="0.97" stroke-linejoin="round"/>
<polygon points="575.99,348.98 586.25,338.05 595.47,328.35 602.95,320.69 608.77,315.15 609.55,315.91 604.15,321.86 596.76,329.61 587.19,338.97 576.51,349.49" fill="#6a2387" opacity="0.9" stroke-linejoin="round"/>
<line x1="586.72" y1="338.51" x2="600.18" y2="324.72" stroke="#b8387c" stroke-width="1.0" stroke-linecap="round"/>
<line x1="576.62" y1="348.85" x2="593.08" y2="332" stroke="#f58a50" stroke-width="0.75" stroke-linecap="round"/>
<text x="574.8" y="314.2" font-size="6.5" font-weight="bold" fill="#000" textLength="14.8" lengthAdjust="spacingAndGlyphs">0.995</text>
<text x="590.1" y="314.2" font-size="5.0" font-weight="bold" fill="#222" textLength="15.0" lengthAdjust="spacingAndGlyphs">(0.995)</text>
<rect x="619.3" y="308.4" width="43.3" height="43.3" fill="#e6e6e6" stroke="#9c9c9c" stroke-width="0.7" rx="0" />
<text x="640.95" y="327.84" font-size="5.57" font-weight="bold" text-anchor="middle" fill="#000" >m<tspan font-size="2.9" dy="-1.7">6</tspan><tspan dy="1.7">A</tspan></text>
<text x="640.95" y="335.04" font-size="5.57" font-weight="bold" text-anchor="middle" fill="#000" textLength="11.2" lengthAdjust="spacingAndGlyphs" >rep2</text>
<text x="481.2" y="320.47" font-size="5.8" font-weight="bold" text-anchor="end" fill="#000" >2.0</text>
<text x="481.2" y="347.97" font-size="5.8" font-weight="bold" text-anchor="end" fill="#000" >-1.0</text>
<text x="486.9" y="358.27" font-size="5.8" font-weight="bold" text-anchor="middle" fill="#000" >-1.0</text>
<text x="515.3" y="358.27" font-size="5.8" font-weight="bold" text-anchor="middle" fill="#000" >2.0</text>
<text x="532.8" y="358.27" font-size="5.8" font-weight="bold" text-anchor="middle" fill="#000" >-1.0</text>
<text x="561.2" y="358.27" font-size="5.8" font-weight="bold" text-anchor="middle" fill="#000" >2.0</text>
<text x="578.6" y="358.27" font-size="5.8" font-weight="bold" text-anchor="middle" fill="#000" >-1.0</text>
<text x="607" y="358.27" font-size="5.8" font-weight="bold" text-anchor="middle" fill="#000" >2.0</text>
<text x="624.1" y="358.27" font-size="5.8" font-weight="bold" text-anchor="middle" fill="#000" >-1.0</text>
<text x="652.5" y="358.27" font-size="5.8" font-weight="bold" text-anchor="middle" fill="#000" >2.0</text>
<text x="576.4" y="363.6" font-size="5.89" font-weight="bold" text-anchor="middle" fill="#000" textLength="109.34" lengthAdjust="spacingAndGlyphs" >mean normalized electric current intensity</text>
<text transform="translate(466.8,260.2) rotate(-90)" font-size="5.89" font-weight="bold" text-anchor="middle" fill="#000" textLength="109.34" lengthAdjust="spacingAndGlyphs" >mean normalized electric current intensity</text>
<rect x="665.2" y="308.9" width="2.8" height="43.3" fill="url(#cb)" stroke="none" stroke-width="0" rx="0" />
<text x="668.5" y="313.17" font-size="5.8" font-weight="normal" text-anchor="start" fill="#000" >0.0</text>
<text x="668.5" y="332.07" font-size="5.8" font-weight="normal" text-anchor="start" fill="#000" >1.5</text>
<text x="668.5" y="350.87" font-size="5.8" font-weight="normal" text-anchor="start" fill="#000" >3.0</text>
<text transform="translate(683.43,327.8) rotate(-90)" font-size="5.39" font-weight="bold" text-anchor="middle" fill="#000" textLength="17.16" lengthAdjust="spacingAndGlyphs" >density</text>
</svg>
</body></html>
